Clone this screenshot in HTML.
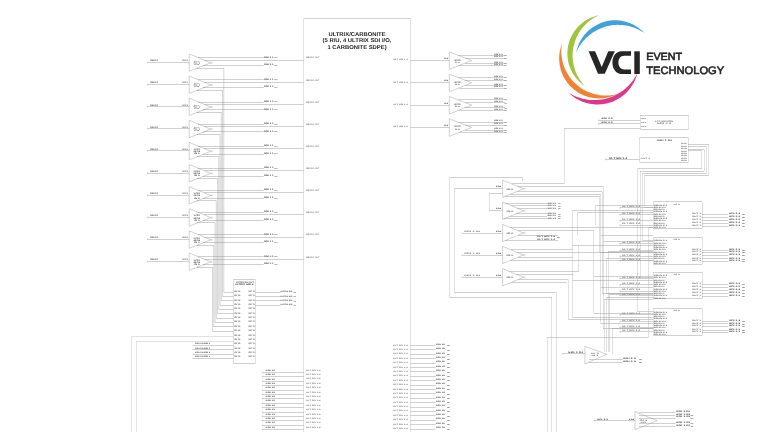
<!DOCTYPE html>
<html><head><meta charset="utf-8"><style>
html,body{margin:0;padding:0;background:#fff;width:768px;height:432px;overflow:hidden}
svg{display:block;font-family:"Liberation Sans",sans-serif;filter:blur(0.2px)}
</style></head><body>
<svg style="text-rendering:geometricPrecision" width="768" height="432" viewBox="0 0 768 432">
<rect width="768" height="432" fill="#fff"/>
<polygon points="189.20,53.90 210.80,62.80 189.20,71.30" fill="none" stroke="#9a9a9a" stroke-width="0.45"/>
<circle cx="211.70" cy="62.80" r="0.8" fill="none" stroke="#999" stroke-width="0.3"/>
<line x1="147.50" y1="62.50" x2="189.20" y2="62.50" stroke="#969696" stroke-width="0.45"/>
<line x1="148.00" y1="61.60" x2="146.80" y2="62.40" stroke="#969696" stroke-width="0.3"/>
<line x1="146.80" y1="62.40" x2="148.00" y2="63.20" stroke="#969696" stroke-width="0.3"/>
<text x="150.30" y="61.35" font-size="2.21" font-weight="bold" text-anchor="start" fill="#4a4a4a" textLength="8.00" lengthAdjust="spacingAndGlyphs">SDI IN 1</text>
<text x="182.60" y="61.35" font-size="2.21" font-weight="bold" text-anchor="start" fill="#4a4a4a" textLength="5.40" lengthAdjust="spacingAndGlyphs">IN 1</text>
<text x="193.60" y="65.00" font-size="6.0" font-weight="normal" text-anchor="start" fill="#7a7a7a" textLength="6.20" lengthAdjust="spacingAndGlyphs">6D</text>
<line x1="198.67" y1="57.50" x2="263.75" y2="57.50" stroke="#969696" stroke-width="0.45"/>
<circle cx="198.67" cy="57.80" r="0.35" fill="#666"/>
<text x="264.00" y="57.55" font-size="2.21" font-weight="bold" text-anchor="start" fill="#4a4a4a" textLength="9.50" lengthAdjust="spacingAndGlyphs">SDI 1.1</text>
<text x="274.50" y="58.18" font-size="1.56" font-weight="bold" text-anchor="start" fill="#4a4a4a" textLength="3.10" lengthAdjust="spacingAndGlyphs">OUT</text>
<line x1="203.68" y1="65.50" x2="263.75" y2="65.50" stroke="#969696" stroke-width="0.45"/>
<circle cx="203.68" cy="65.60" r="0.35" fill="#666"/>
<text x="264.00" y="65.35" font-size="2.21" font-weight="bold" text-anchor="start" fill="#4a4a4a" textLength="9.50" lengthAdjust="spacingAndGlyphs">SDI 1.1</text>
<text x="274.50" y="65.98" font-size="1.56" font-weight="bold" text-anchor="start" fill="#4a4a4a" textLength="3.10" lengthAdjust="spacingAndGlyphs">OUT</text>
<line x1="204.25" y1="60.50" x2="303.80" y2="60.50" stroke="#969696" stroke-width="0.45"/>
<text x="306.00" y="58.47" font-size="2.3400000000000003" font-weight="bold" text-anchor="start" fill="#767676" textLength="13.40" lengthAdjust="spacingAndGlyphs">SDI IN 1 ULT</text>
<line x1="197.33" y1="68.50" x2="223.80" y2="68.50" stroke="#969696" stroke-width="0.45"/>
<circle cx="197.33" cy="68.10" r="0.35" fill="#666"/>
<polygon points="189.20,76.02 210.80,84.92 189.20,93.42" fill="none" stroke="#9a9a9a" stroke-width="0.45"/>
<circle cx="211.70" cy="84.92" r="0.8" fill="none" stroke="#999" stroke-width="0.3"/>
<line x1="147.50" y1="84.50" x2="189.20" y2="84.50" stroke="#969696" stroke-width="0.45"/>
<line x1="148.00" y1="83.72" x2="146.80" y2="84.52" stroke="#969696" stroke-width="0.3"/>
<line x1="146.80" y1="84.52" x2="148.00" y2="85.32" stroke="#969696" stroke-width="0.3"/>
<text x="150.30" y="83.47" font-size="2.21" font-weight="bold" text-anchor="start" fill="#4a4a4a" textLength="8.00" lengthAdjust="spacingAndGlyphs">SDI IN 1</text>
<text x="182.60" y="83.47" font-size="2.21" font-weight="bold" text-anchor="start" fill="#4a4a4a" textLength="5.40" lengthAdjust="spacingAndGlyphs">IN 1</text>
<text x="193.60" y="87.12" font-size="6.0" font-weight="normal" text-anchor="start" fill="#7a7a7a" textLength="6.20" lengthAdjust="spacingAndGlyphs">6D</text>
<line x1="198.67" y1="79.50" x2="263.75" y2="79.50" stroke="#969696" stroke-width="0.45"/>
<circle cx="198.67" cy="79.92" r="0.35" fill="#666"/>
<text x="264.00" y="79.67" font-size="2.21" font-weight="bold" text-anchor="start" fill="#4a4a4a" textLength="9.50" lengthAdjust="spacingAndGlyphs">SDI 1.1</text>
<text x="274.50" y="80.30" font-size="1.56" font-weight="bold" text-anchor="start" fill="#4a4a4a" textLength="3.10" lengthAdjust="spacingAndGlyphs">OUT</text>
<line x1="203.68" y1="87.50" x2="263.75" y2="87.50" stroke="#969696" stroke-width="0.45"/>
<circle cx="203.68" cy="87.72" r="0.35" fill="#666"/>
<text x="264.00" y="87.47" font-size="2.21" font-weight="bold" text-anchor="start" fill="#4a4a4a" textLength="9.50" lengthAdjust="spacingAndGlyphs">SDI 1.1</text>
<text x="274.50" y="88.10" font-size="1.56" font-weight="bold" text-anchor="start" fill="#4a4a4a" textLength="3.10" lengthAdjust="spacingAndGlyphs">OUT</text>
<line x1="204.25" y1="82.50" x2="303.80" y2="82.50" stroke="#969696" stroke-width="0.45"/>
<text x="306.00" y="80.59" font-size="2.3400000000000003" font-weight="bold" text-anchor="start" fill="#767676" textLength="13.40" lengthAdjust="spacingAndGlyphs">SDI IN 1 ULT</text>
<line x1="197.33" y1="90.50" x2="222.55" y2="90.50" stroke="#969696" stroke-width="0.45"/>
<circle cx="197.33" cy="90.22" r="0.35" fill="#666"/>
<polygon points="189.20,98.14 210.80,107.04 189.20,115.54" fill="none" stroke="#9a9a9a" stroke-width="0.45"/>
<circle cx="211.70" cy="107.04" r="0.8" fill="none" stroke="#999" stroke-width="0.3"/>
<line x1="147.50" y1="106.50" x2="189.20" y2="106.50" stroke="#969696" stroke-width="0.45"/>
<line x1="148.00" y1="105.84" x2="146.80" y2="106.64" stroke="#969696" stroke-width="0.3"/>
<line x1="146.80" y1="106.64" x2="148.00" y2="107.44" stroke="#969696" stroke-width="0.3"/>
<text x="150.30" y="105.59" font-size="2.21" font-weight="bold" text-anchor="start" fill="#4a4a4a" textLength="8.00" lengthAdjust="spacingAndGlyphs">SDI IN 1</text>
<text x="182.60" y="105.59" font-size="2.21" font-weight="bold" text-anchor="start" fill="#4a4a4a" textLength="5.40" lengthAdjust="spacingAndGlyphs">IN 1</text>
<text x="193.60" y="109.24" font-size="6.0" font-weight="normal" text-anchor="start" fill="#7a7a7a" textLength="6.20" lengthAdjust="spacingAndGlyphs">6D</text>
<line x1="198.67" y1="102.50" x2="263.75" y2="102.50" stroke="#969696" stroke-width="0.45"/>
<circle cx="198.67" cy="102.04" r="0.35" fill="#666"/>
<text x="264.00" y="101.79" font-size="2.21" font-weight="bold" text-anchor="start" fill="#4a4a4a" textLength="9.50" lengthAdjust="spacingAndGlyphs">SDI 1.1</text>
<text x="274.50" y="102.42" font-size="1.56" font-weight="bold" text-anchor="start" fill="#4a4a4a" textLength="3.10" lengthAdjust="spacingAndGlyphs">OUT</text>
<line x1="203.68" y1="109.50" x2="263.75" y2="109.50" stroke="#969696" stroke-width="0.45"/>
<circle cx="203.68" cy="109.84" r="0.35" fill="#666"/>
<text x="264.00" y="109.59" font-size="2.21" font-weight="bold" text-anchor="start" fill="#4a4a4a" textLength="9.50" lengthAdjust="spacingAndGlyphs">SDI 1.1</text>
<text x="274.50" y="110.22" font-size="1.56" font-weight="bold" text-anchor="start" fill="#4a4a4a" textLength="3.10" lengthAdjust="spacingAndGlyphs">OUT</text>
<line x1="204.25" y1="104.50" x2="303.80" y2="104.50" stroke="#969696" stroke-width="0.45"/>
<text x="306.00" y="102.71" font-size="2.3400000000000003" font-weight="bold" text-anchor="start" fill="#767676" textLength="13.40" lengthAdjust="spacingAndGlyphs">SDI IN 1 ULT</text>
<line x1="197.33" y1="112.50" x2="221.30" y2="112.50" stroke="#969696" stroke-width="0.45"/>
<circle cx="197.33" cy="112.34" r="0.35" fill="#666"/>
<polygon points="189.20,120.26 210.80,129.16 189.20,137.66" fill="none" stroke="#9a9a9a" stroke-width="0.45"/>
<circle cx="211.70" cy="129.16" r="0.8" fill="none" stroke="#999" stroke-width="0.3"/>
<line x1="147.50" y1="128.50" x2="189.20" y2="128.50" stroke="#969696" stroke-width="0.45"/>
<line x1="148.00" y1="127.96" x2="146.80" y2="128.76" stroke="#969696" stroke-width="0.3"/>
<line x1="146.80" y1="128.76" x2="148.00" y2="129.56" stroke="#969696" stroke-width="0.3"/>
<text x="150.30" y="127.71" font-size="2.21" font-weight="bold" text-anchor="start" fill="#4a4a4a" textLength="8.00" lengthAdjust="spacingAndGlyphs">SDI IN 1</text>
<text x="182.60" y="127.71" font-size="2.21" font-weight="bold" text-anchor="start" fill="#4a4a4a" textLength="5.40" lengthAdjust="spacingAndGlyphs">IN 1</text>
<text x="193.60" y="131.36" font-size="6.0" font-weight="normal" text-anchor="start" fill="#7a7a7a" textLength="6.20" lengthAdjust="spacingAndGlyphs">6D</text>
<line x1="198.67" y1="124.50" x2="263.75" y2="124.50" stroke="#969696" stroke-width="0.45"/>
<circle cx="198.67" cy="124.16" r="0.35" fill="#666"/>
<text x="264.00" y="123.91" font-size="2.21" font-weight="bold" text-anchor="start" fill="#4a4a4a" textLength="9.50" lengthAdjust="spacingAndGlyphs">SDI 1.1</text>
<text x="274.50" y="124.54" font-size="1.56" font-weight="bold" text-anchor="start" fill="#4a4a4a" textLength="3.10" lengthAdjust="spacingAndGlyphs">OUT</text>
<line x1="203.68" y1="131.50" x2="263.75" y2="131.50" stroke="#969696" stroke-width="0.45"/>
<circle cx="203.68" cy="131.96" r="0.35" fill="#666"/>
<text x="264.00" y="131.72" font-size="2.21" font-weight="bold" text-anchor="start" fill="#4a4a4a" textLength="9.50" lengthAdjust="spacingAndGlyphs">SDI 1.1</text>
<text x="274.50" y="132.34" font-size="1.56" font-weight="bold" text-anchor="start" fill="#4a4a4a" textLength="3.10" lengthAdjust="spacingAndGlyphs">OUT</text>
<line x1="204.25" y1="126.50" x2="303.80" y2="126.50" stroke="#969696" stroke-width="0.45"/>
<text x="306.00" y="124.83" font-size="2.3400000000000003" font-weight="bold" text-anchor="start" fill="#767676" textLength="13.40" lengthAdjust="spacingAndGlyphs">SDI IN 1 ULT</text>
<line x1="197.33" y1="134.50" x2="220.05" y2="134.50" stroke="#969696" stroke-width="0.45"/>
<circle cx="197.33" cy="134.46" r="0.35" fill="#666"/>
<polygon points="189.20,142.38 210.80,151.28 189.20,159.78" fill="none" stroke="#9a9a9a" stroke-width="0.45"/>
<circle cx="211.70" cy="151.28" r="0.8" fill="none" stroke="#999" stroke-width="0.3"/>
<line x1="147.50" y1="150.50" x2="189.20" y2="150.50" stroke="#969696" stroke-width="0.45"/>
<line x1="148.00" y1="150.08" x2="146.80" y2="150.88" stroke="#969696" stroke-width="0.3"/>
<line x1="146.80" y1="150.88" x2="148.00" y2="151.68" stroke="#969696" stroke-width="0.3"/>
<text x="150.30" y="149.84" font-size="2.21" font-weight="bold" text-anchor="start" fill="#4a4a4a" textLength="8.00" lengthAdjust="spacingAndGlyphs">SDI IN 1</text>
<text x="182.60" y="149.84" font-size="2.21" font-weight="bold" text-anchor="start" fill="#4a4a4a" textLength="5.40" lengthAdjust="spacingAndGlyphs">IN 1</text>
<text x="193.80" y="150.02" font-size="2.08" font-weight="bold" text-anchor="start" fill="#505050" textLength="6.10" lengthAdjust="spacingAndGlyphs">ULTRIX</text>
<text x="193.60" y="152.22" font-size="2.08" font-weight="bold" text-anchor="start" fill="#404040" textLength="6.50" lengthAdjust="spacingAndGlyphs">SDI DA</text>
<text x="194.20" y="154.32" font-size="2.08" font-weight="bold" text-anchor="start" fill="#505050" textLength="5.40" lengthAdjust="spacingAndGlyphs">IN 3</text>
<line x1="198.67" y1="146.50" x2="263.75" y2="146.50" stroke="#969696" stroke-width="0.45"/>
<circle cx="198.67" cy="146.28" r="0.35" fill="#666"/>
<text x="264.00" y="146.03" font-size="2.21" font-weight="bold" text-anchor="start" fill="#4a4a4a" textLength="9.50" lengthAdjust="spacingAndGlyphs">SDI 1.1</text>
<text x="274.50" y="146.66" font-size="1.56" font-weight="bold" text-anchor="start" fill="#4a4a4a" textLength="3.10" lengthAdjust="spacingAndGlyphs">OUT</text>
<line x1="203.68" y1="154.50" x2="263.75" y2="154.50" stroke="#969696" stroke-width="0.45"/>
<circle cx="203.68" cy="154.08" r="0.35" fill="#666"/>
<text x="264.00" y="153.84" font-size="2.21" font-weight="bold" text-anchor="start" fill="#4a4a4a" textLength="9.50" lengthAdjust="spacingAndGlyphs">SDI 1.1</text>
<text x="274.50" y="154.46" font-size="1.56" font-weight="bold" text-anchor="start" fill="#4a4a4a" textLength="3.10" lengthAdjust="spacingAndGlyphs">OUT</text>
<line x1="204.25" y1="148.50" x2="303.80" y2="148.50" stroke="#969696" stroke-width="0.45"/>
<text x="306.00" y="146.95" font-size="2.3400000000000003" font-weight="bold" text-anchor="start" fill="#767676" textLength="13.40" lengthAdjust="spacingAndGlyphs">SDI IN 1 ULT</text>
<line x1="197.33" y1="156.50" x2="218.80" y2="156.50" stroke="#969696" stroke-width="0.45"/>
<circle cx="197.33" cy="156.58" r="0.35" fill="#666"/>
<polygon points="189.20,164.50 210.80,173.40 189.20,181.90" fill="none" stroke="#9a9a9a" stroke-width="0.45"/>
<circle cx="211.70" cy="173.40" r="0.8" fill="none" stroke="#999" stroke-width="0.3"/>
<line x1="147.50" y1="173.50" x2="189.20" y2="173.50" stroke="#969696" stroke-width="0.45"/>
<line x1="148.00" y1="172.20" x2="146.80" y2="173.00" stroke="#969696" stroke-width="0.3"/>
<line x1="146.80" y1="173.00" x2="148.00" y2="173.80" stroke="#969696" stroke-width="0.3"/>
<text x="150.30" y="171.96" font-size="2.21" font-weight="bold" text-anchor="start" fill="#4a4a4a" textLength="8.00" lengthAdjust="spacingAndGlyphs">SDI IN 1</text>
<text x="182.60" y="171.96" font-size="2.21" font-weight="bold" text-anchor="start" fill="#4a4a4a" textLength="5.40" lengthAdjust="spacingAndGlyphs">IN 1</text>
<text x="193.80" y="172.14" font-size="2.08" font-weight="bold" text-anchor="start" fill="#505050" textLength="6.10" lengthAdjust="spacingAndGlyphs">ULTRIX</text>
<text x="193.60" y="174.34" font-size="2.08" font-weight="bold" text-anchor="start" fill="#404040" textLength="6.50" lengthAdjust="spacingAndGlyphs">SDI DA</text>
<text x="194.20" y="176.44" font-size="2.08" font-weight="bold" text-anchor="start" fill="#505050" textLength="5.40" lengthAdjust="spacingAndGlyphs">IN 3</text>
<line x1="198.67" y1="168.50" x2="263.75" y2="168.50" stroke="#969696" stroke-width="0.45"/>
<circle cx="198.67" cy="168.40" r="0.35" fill="#666"/>
<text x="264.00" y="168.16" font-size="2.21" font-weight="bold" text-anchor="start" fill="#4a4a4a" textLength="9.50" lengthAdjust="spacingAndGlyphs">SDI 1.1</text>
<text x="274.50" y="168.78" font-size="1.56" font-weight="bold" text-anchor="start" fill="#4a4a4a" textLength="3.10" lengthAdjust="spacingAndGlyphs">OUT</text>
<line x1="203.68" y1="176.50" x2="263.75" y2="176.50" stroke="#969696" stroke-width="0.45"/>
<circle cx="203.68" cy="176.20" r="0.35" fill="#666"/>
<text x="264.00" y="175.96" font-size="2.21" font-weight="bold" text-anchor="start" fill="#4a4a4a" textLength="9.50" lengthAdjust="spacingAndGlyphs">SDI 1.1</text>
<text x="274.50" y="176.58" font-size="1.56" font-weight="bold" text-anchor="start" fill="#4a4a4a" textLength="3.10" lengthAdjust="spacingAndGlyphs">OUT</text>
<line x1="204.25" y1="170.50" x2="303.80" y2="170.50" stroke="#969696" stroke-width="0.45"/>
<text x="306.00" y="169.07" font-size="2.3400000000000003" font-weight="bold" text-anchor="start" fill="#767676" textLength="13.40" lengthAdjust="spacingAndGlyphs">SDI IN 1 ULT</text>
<line x1="197.33" y1="178.50" x2="217.55" y2="178.50" stroke="#969696" stroke-width="0.45"/>
<circle cx="197.33" cy="178.70" r="0.35" fill="#666"/>
<polygon points="189.20,186.62 210.80,195.52 189.20,204.02" fill="none" stroke="#9a9a9a" stroke-width="0.45"/>
<circle cx="211.70" cy="195.52" r="0.8" fill="none" stroke="#999" stroke-width="0.3"/>
<line x1="147.50" y1="195.50" x2="189.20" y2="195.50" stroke="#969696" stroke-width="0.45"/>
<line x1="148.00" y1="194.32" x2="146.80" y2="195.12" stroke="#969696" stroke-width="0.3"/>
<line x1="146.80" y1="195.12" x2="148.00" y2="195.92" stroke="#969696" stroke-width="0.3"/>
<text x="150.30" y="194.07" font-size="2.21" font-weight="bold" text-anchor="start" fill="#4a4a4a" textLength="8.00" lengthAdjust="spacingAndGlyphs">SDI IN 1</text>
<text x="182.60" y="194.07" font-size="2.21" font-weight="bold" text-anchor="start" fill="#4a4a4a" textLength="5.40" lengthAdjust="spacingAndGlyphs">IN 1</text>
<text x="193.80" y="194.26" font-size="2.08" font-weight="bold" text-anchor="start" fill="#505050" textLength="6.10" lengthAdjust="spacingAndGlyphs">ULTRIX</text>
<text x="193.60" y="196.46" font-size="2.08" font-weight="bold" text-anchor="start" fill="#404040" textLength="6.50" lengthAdjust="spacingAndGlyphs">SDI DA</text>
<text x="194.20" y="198.56" font-size="2.08" font-weight="bold" text-anchor="start" fill="#505050" textLength="5.40" lengthAdjust="spacingAndGlyphs">IN 3</text>
<line x1="198.67" y1="190.50" x2="263.75" y2="190.50" stroke="#969696" stroke-width="0.45"/>
<circle cx="198.67" cy="190.52" r="0.35" fill="#666"/>
<text x="264.00" y="190.27" font-size="2.21" font-weight="bold" text-anchor="start" fill="#4a4a4a" textLength="9.50" lengthAdjust="spacingAndGlyphs">SDI 1.1</text>
<text x="274.50" y="190.90" font-size="1.56" font-weight="bold" text-anchor="start" fill="#4a4a4a" textLength="3.10" lengthAdjust="spacingAndGlyphs">OUT</text>
<line x1="203.68" y1="198.50" x2="263.75" y2="198.50" stroke="#969696" stroke-width="0.45"/>
<circle cx="203.68" cy="198.32" r="0.35" fill="#666"/>
<text x="264.00" y="198.07" font-size="2.21" font-weight="bold" text-anchor="start" fill="#4a4a4a" textLength="9.50" lengthAdjust="spacingAndGlyphs">SDI 1.1</text>
<text x="274.50" y="198.70" font-size="1.56" font-weight="bold" text-anchor="start" fill="#4a4a4a" textLength="3.10" lengthAdjust="spacingAndGlyphs">OUT</text>
<line x1="204.25" y1="192.50" x2="303.80" y2="192.50" stroke="#969696" stroke-width="0.45"/>
<text x="306.00" y="191.19" font-size="2.3400000000000003" font-weight="bold" text-anchor="start" fill="#767676" textLength="13.40" lengthAdjust="spacingAndGlyphs">SDI IN 1 ULT</text>
<line x1="197.33" y1="200.50" x2="216.30" y2="200.50" stroke="#969696" stroke-width="0.45"/>
<circle cx="197.33" cy="200.82" r="0.35" fill="#666"/>
<polygon points="189.20,208.74 210.80,217.64 189.20,226.14" fill="none" stroke="#9a9a9a" stroke-width="0.45"/>
<circle cx="211.70" cy="217.64" r="0.8" fill="none" stroke="#999" stroke-width="0.3"/>
<line x1="147.50" y1="217.50" x2="189.20" y2="217.50" stroke="#969696" stroke-width="0.45"/>
<line x1="148.00" y1="216.44" x2="146.80" y2="217.24" stroke="#969696" stroke-width="0.3"/>
<line x1="146.80" y1="217.24" x2="148.00" y2="218.04" stroke="#969696" stroke-width="0.3"/>
<text x="150.30" y="216.19" font-size="2.21" font-weight="bold" text-anchor="start" fill="#4a4a4a" textLength="8.00" lengthAdjust="spacingAndGlyphs">SDI IN 1</text>
<text x="182.60" y="216.19" font-size="2.21" font-weight="bold" text-anchor="start" fill="#4a4a4a" textLength="5.40" lengthAdjust="spacingAndGlyphs">IN 1</text>
<text x="193.80" y="216.38" font-size="2.08" font-weight="bold" text-anchor="start" fill="#505050" textLength="6.10" lengthAdjust="spacingAndGlyphs">ULTRIX</text>
<text x="193.60" y="218.58" font-size="2.08" font-weight="bold" text-anchor="start" fill="#404040" textLength="6.50" lengthAdjust="spacingAndGlyphs">SDI DA</text>
<text x="194.20" y="220.68" font-size="2.08" font-weight="bold" text-anchor="start" fill="#505050" textLength="5.40" lengthAdjust="spacingAndGlyphs">IN 3</text>
<line x1="198.67" y1="212.50" x2="263.75" y2="212.50" stroke="#969696" stroke-width="0.45"/>
<circle cx="198.67" cy="212.64" r="0.35" fill="#666"/>
<text x="264.00" y="212.39" font-size="2.21" font-weight="bold" text-anchor="start" fill="#4a4a4a" textLength="9.50" lengthAdjust="spacingAndGlyphs">SDI 1.1</text>
<text x="274.50" y="213.02" font-size="1.56" font-weight="bold" text-anchor="start" fill="#4a4a4a" textLength="3.10" lengthAdjust="spacingAndGlyphs">OUT</text>
<line x1="203.68" y1="220.50" x2="263.75" y2="220.50" stroke="#969696" stroke-width="0.45"/>
<circle cx="203.68" cy="220.44" r="0.35" fill="#666"/>
<text x="264.00" y="220.19" font-size="2.21" font-weight="bold" text-anchor="start" fill="#4a4a4a" textLength="9.50" lengthAdjust="spacingAndGlyphs">SDI 1.1</text>
<text x="274.50" y="220.82" font-size="1.56" font-weight="bold" text-anchor="start" fill="#4a4a4a" textLength="3.10" lengthAdjust="spacingAndGlyphs">OUT</text>
<line x1="204.25" y1="214.50" x2="303.80" y2="214.50" stroke="#969696" stroke-width="0.45"/>
<text x="306.00" y="213.31" font-size="2.3400000000000003" font-weight="bold" text-anchor="start" fill="#767676" textLength="13.40" lengthAdjust="spacingAndGlyphs">SDI IN 1 ULT</text>
<line x1="197.33" y1="222.50" x2="215.05" y2="222.50" stroke="#969696" stroke-width="0.45"/>
<circle cx="197.33" cy="222.94" r="0.35" fill="#666"/>
<polygon points="189.20,230.86 210.80,239.76 189.20,248.26" fill="none" stroke="#9a9a9a" stroke-width="0.45"/>
<circle cx="211.70" cy="239.76" r="0.8" fill="none" stroke="#999" stroke-width="0.3"/>
<line x1="147.50" y1="239.50" x2="189.20" y2="239.50" stroke="#969696" stroke-width="0.45"/>
<line x1="148.00" y1="238.56" x2="146.80" y2="239.36" stroke="#969696" stroke-width="0.3"/>
<line x1="146.80" y1="239.36" x2="148.00" y2="240.16" stroke="#969696" stroke-width="0.3"/>
<text x="150.30" y="238.31" font-size="2.21" font-weight="bold" text-anchor="start" fill="#4a4a4a" textLength="8.00" lengthAdjust="spacingAndGlyphs">SDI IN 1</text>
<text x="182.60" y="238.31" font-size="2.21" font-weight="bold" text-anchor="start" fill="#4a4a4a" textLength="5.40" lengthAdjust="spacingAndGlyphs">IN 1</text>
<text x="193.80" y="238.50" font-size="2.08" font-weight="bold" text-anchor="start" fill="#505050" textLength="6.10" lengthAdjust="spacingAndGlyphs">ULTRIX</text>
<text x="193.60" y="240.70" font-size="2.08" font-weight="bold" text-anchor="start" fill="#404040" textLength="6.50" lengthAdjust="spacingAndGlyphs">SDI DA</text>
<text x="194.20" y="242.80" font-size="2.08" font-weight="bold" text-anchor="start" fill="#505050" textLength="5.40" lengthAdjust="spacingAndGlyphs">IN 3</text>
<line x1="198.67" y1="234.50" x2="263.75" y2="234.50" stroke="#969696" stroke-width="0.45"/>
<circle cx="198.67" cy="234.76" r="0.35" fill="#666"/>
<text x="264.00" y="234.51" font-size="2.21" font-weight="bold" text-anchor="start" fill="#4a4a4a" textLength="9.50" lengthAdjust="spacingAndGlyphs">SDI 1.1</text>
<text x="274.50" y="235.14" font-size="1.56" font-weight="bold" text-anchor="start" fill="#4a4a4a" textLength="3.10" lengthAdjust="spacingAndGlyphs">OUT</text>
<line x1="203.68" y1="242.50" x2="263.75" y2="242.50" stroke="#969696" stroke-width="0.45"/>
<circle cx="203.68" cy="242.56" r="0.35" fill="#666"/>
<text x="264.00" y="242.31" font-size="2.21" font-weight="bold" text-anchor="start" fill="#4a4a4a" textLength="9.50" lengthAdjust="spacingAndGlyphs">SDI 1.1</text>
<text x="274.50" y="242.94" font-size="1.56" font-weight="bold" text-anchor="start" fill="#4a4a4a" textLength="3.10" lengthAdjust="spacingAndGlyphs">OUT</text>
<line x1="204.25" y1="237.50" x2="303.80" y2="237.50" stroke="#969696" stroke-width="0.45"/>
<text x="306.00" y="235.43" font-size="2.3400000000000003" font-weight="bold" text-anchor="start" fill="#767676" textLength="13.40" lengthAdjust="spacingAndGlyphs">SDI IN 1 ULT</text>
<line x1="197.33" y1="245.50" x2="213.80" y2="245.50" stroke="#969696" stroke-width="0.45"/>
<circle cx="197.33" cy="245.06" r="0.35" fill="#666"/>
<polygon points="189.20,252.98 210.80,261.88 189.20,270.38" fill="none" stroke="#9a9a9a" stroke-width="0.45"/>
<circle cx="211.70" cy="261.88" r="0.8" fill="none" stroke="#999" stroke-width="0.3"/>
<line x1="147.50" y1="261.50" x2="189.20" y2="261.50" stroke="#969696" stroke-width="0.45"/>
<line x1="148.00" y1="260.68" x2="146.80" y2="261.48" stroke="#969696" stroke-width="0.3"/>
<line x1="146.80" y1="261.48" x2="148.00" y2="262.28" stroke="#969696" stroke-width="0.3"/>
<text x="150.30" y="260.44" font-size="2.21" font-weight="bold" text-anchor="start" fill="#4a4a4a" textLength="8.00" lengthAdjust="spacingAndGlyphs">SDI IN 1</text>
<text x="182.60" y="260.44" font-size="2.21" font-weight="bold" text-anchor="start" fill="#4a4a4a" textLength="5.40" lengthAdjust="spacingAndGlyphs">IN 1</text>
<text x="193.80" y="260.62" font-size="2.08" font-weight="bold" text-anchor="start" fill="#505050" textLength="6.10" lengthAdjust="spacingAndGlyphs">ULTRIX</text>
<text x="193.60" y="262.82" font-size="2.08" font-weight="bold" text-anchor="start" fill="#404040" textLength="6.50" lengthAdjust="spacingAndGlyphs">SDI DA</text>
<text x="194.20" y="264.92" font-size="2.08" font-weight="bold" text-anchor="start" fill="#505050" textLength="5.40" lengthAdjust="spacingAndGlyphs">IN 3</text>
<line x1="198.67" y1="256.50" x2="263.75" y2="256.50" stroke="#969696" stroke-width="0.45"/>
<circle cx="198.67" cy="256.88" r="0.35" fill="#666"/>
<text x="264.00" y="256.63" font-size="2.21" font-weight="bold" text-anchor="start" fill="#4a4a4a" textLength="9.50" lengthAdjust="spacingAndGlyphs">SDI 1.1</text>
<text x="274.50" y="257.26" font-size="1.56" font-weight="bold" text-anchor="start" fill="#4a4a4a" textLength="3.10" lengthAdjust="spacingAndGlyphs">OUT</text>
<line x1="203.68" y1="264.50" x2="263.75" y2="264.50" stroke="#969696" stroke-width="0.45"/>
<circle cx="203.68" cy="264.68" r="0.35" fill="#666"/>
<text x="264.00" y="264.44" font-size="2.21" font-weight="bold" text-anchor="start" fill="#4a4a4a" textLength="9.50" lengthAdjust="spacingAndGlyphs">SDI 1.1</text>
<text x="274.50" y="265.06" font-size="1.56" font-weight="bold" text-anchor="start" fill="#4a4a4a" textLength="3.10" lengthAdjust="spacingAndGlyphs">OUT</text>
<line x1="204.25" y1="259.50" x2="303.80" y2="259.50" stroke="#969696" stroke-width="0.45"/>
<text x="306.00" y="257.55" font-size="2.3400000000000003" font-weight="bold" text-anchor="start" fill="#767676" textLength="13.40" lengthAdjust="spacingAndGlyphs">SDI IN 1 ULT</text>
<line x1="197.33" y1="267.50" x2="212.55" y2="267.50" stroke="#969696" stroke-width="0.45"/>
<circle cx="197.33" cy="267.18" r="0.35" fill="#666"/>
<line x1="223.80" y1="68.10" x2="223.80" y2="292.10" stroke="#8a8a8a" stroke-width="0.35"/>
<line x1="223.80" y1="292.50" x2="233.40" y2="292.50" stroke="#969696" stroke-width="0.45"/>
<line x1="222.55" y1="90.22" x2="222.55" y2="296.46" stroke="#8a8a8a" stroke-width="0.35"/>
<line x1="222.55" y1="296.50" x2="233.40" y2="296.50" stroke="#969696" stroke-width="0.45"/>
<line x1="221.30" y1="112.34" x2="221.30" y2="300.82" stroke="#8a8a8a" stroke-width="0.35"/>
<line x1="221.30" y1="300.50" x2="233.40" y2="300.50" stroke="#969696" stroke-width="0.45"/>
<line x1="220.05" y1="134.46" x2="220.05" y2="305.18" stroke="#8a8a8a" stroke-width="0.35"/>
<line x1="220.05" y1="305.50" x2="233.40" y2="305.50" stroke="#969696" stroke-width="0.45"/>
<line x1="218.80" y1="156.58" x2="218.80" y2="309.54" stroke="#8a8a8a" stroke-width="0.35"/>
<line x1="218.80" y1="309.50" x2="233.40" y2="309.50" stroke="#969696" stroke-width="0.45"/>
<line x1="217.55" y1="178.70" x2="217.55" y2="313.90" stroke="#8a8a8a" stroke-width="0.35"/>
<line x1="217.55" y1="313.50" x2="233.40" y2="313.50" stroke="#969696" stroke-width="0.45"/>
<line x1="216.30" y1="200.82" x2="216.30" y2="318.26" stroke="#8a8a8a" stroke-width="0.35"/>
<line x1="216.30" y1="318.50" x2="233.40" y2="318.50" stroke="#969696" stroke-width="0.45"/>
<line x1="215.05" y1="222.94" x2="215.05" y2="322.62" stroke="#8a8a8a" stroke-width="0.35"/>
<line x1="215.05" y1="322.50" x2="233.40" y2="322.50" stroke="#969696" stroke-width="0.45"/>
<line x1="213.80" y1="245.06" x2="213.80" y2="326.98" stroke="#8a8a8a" stroke-width="0.35"/>
<line x1="213.80" y1="326.50" x2="233.40" y2="326.50" stroke="#969696" stroke-width="0.45"/>
<line x1="212.55" y1="267.18" x2="212.55" y2="331.34" stroke="#8a8a8a" stroke-width="0.35"/>
<line x1="212.55" y1="331.50" x2="233.40" y2="331.50" stroke="#969696" stroke-width="0.45"/>
<line x1="233.40" y1="279.50" x2="255.40" y2="279.50" stroke="#969696" stroke-width="0.45"/>
<line x1="255.50" y1="279.40" x2="255.50" y2="363.60" stroke="#b4b4b4" stroke-width="0.4"/>
<line x1="255.40" y1="363.50" x2="233.40" y2="363.50" stroke="#969696" stroke-width="0.45"/>
<line x1="233.50" y1="363.60" x2="233.50" y2="279.40" stroke="#b4b4b4" stroke-width="0.4"/>
<text x="236.00" y="282.65" font-size="2.21" font-weight="bold" text-anchor="start" fill="#555" textLength="17.80" lengthAdjust="spacingAndGlyphs">ULTRIX SDI OUT</text>
<text x="234.80" y="285.17" font-size="2.3400000000000003" font-weight="bold" text-anchor="start" fill="#333" textLength="18.70" lengthAdjust="spacingAndGlyphs">ULTRIX SDI 4</text>
<text x="234.40" y="291.94" font-size="2.08" font-weight="bold" text-anchor="start" fill="#5a5a5a" textLength="6.00" lengthAdjust="spacingAndGlyphs">IN 12</text>
<text x="248.40" y="291.94" font-size="2.08" font-weight="bold" text-anchor="start" fill="#5a5a5a" textLength="6.40" lengthAdjust="spacingAndGlyphs">OUT 12</text>
<text x="234.40" y="296.30" font-size="2.08" font-weight="bold" text-anchor="start" fill="#5a5a5a" textLength="6.00" lengthAdjust="spacingAndGlyphs">IN 12</text>
<text x="248.40" y="296.30" font-size="2.08" font-weight="bold" text-anchor="start" fill="#5a5a5a" textLength="6.40" lengthAdjust="spacingAndGlyphs">OUT 12</text>
<text x="234.40" y="300.66" font-size="2.08" font-weight="bold" text-anchor="start" fill="#5a5a5a" textLength="6.00" lengthAdjust="spacingAndGlyphs">IN 12</text>
<text x="248.40" y="300.66" font-size="2.08" font-weight="bold" text-anchor="start" fill="#5a5a5a" textLength="6.40" lengthAdjust="spacingAndGlyphs">OUT 12</text>
<text x="234.40" y="305.02" font-size="2.08" font-weight="bold" text-anchor="start" fill="#5a5a5a" textLength="6.00" lengthAdjust="spacingAndGlyphs">IN 12</text>
<text x="248.40" y="305.02" font-size="2.08" font-weight="bold" text-anchor="start" fill="#5a5a5a" textLength="6.40" lengthAdjust="spacingAndGlyphs">OUT 12</text>
<text x="234.40" y="309.38" font-size="2.08" font-weight="bold" text-anchor="start" fill="#5a5a5a" textLength="6.00" lengthAdjust="spacingAndGlyphs">IN 12</text>
<text x="248.40" y="309.38" font-size="2.08" font-weight="bold" text-anchor="start" fill="#5a5a5a" textLength="6.40" lengthAdjust="spacingAndGlyphs">OUT 12</text>
<text x="234.40" y="313.74" font-size="2.08" font-weight="bold" text-anchor="start" fill="#5a5a5a" textLength="6.00" lengthAdjust="spacingAndGlyphs">IN 12</text>
<text x="248.40" y="313.74" font-size="2.08" font-weight="bold" text-anchor="start" fill="#5a5a5a" textLength="6.40" lengthAdjust="spacingAndGlyphs">OUT 12</text>
<text x="234.40" y="318.10" font-size="2.08" font-weight="bold" text-anchor="start" fill="#5a5a5a" textLength="6.00" lengthAdjust="spacingAndGlyphs">IN 12</text>
<text x="248.40" y="318.10" font-size="2.08" font-weight="bold" text-anchor="start" fill="#5a5a5a" textLength="6.40" lengthAdjust="spacingAndGlyphs">OUT 12</text>
<text x="234.40" y="322.46" font-size="2.08" font-weight="bold" text-anchor="start" fill="#5a5a5a" textLength="6.00" lengthAdjust="spacingAndGlyphs">IN 12</text>
<text x="248.40" y="322.46" font-size="2.08" font-weight="bold" text-anchor="start" fill="#5a5a5a" textLength="6.40" lengthAdjust="spacingAndGlyphs">OUT 12</text>
<text x="234.40" y="326.82" font-size="2.08" font-weight="bold" text-anchor="start" fill="#5a5a5a" textLength="6.00" lengthAdjust="spacingAndGlyphs">IN 12</text>
<text x="248.40" y="326.82" font-size="2.08" font-weight="bold" text-anchor="start" fill="#5a5a5a" textLength="6.40" lengthAdjust="spacingAndGlyphs">OUT 12</text>
<text x="234.40" y="331.18" font-size="2.08" font-weight="bold" text-anchor="start" fill="#5a5a5a" textLength="6.00" lengthAdjust="spacingAndGlyphs">IN 12</text>
<text x="248.40" y="331.18" font-size="2.08" font-weight="bold" text-anchor="start" fill="#5a5a5a" textLength="6.40" lengthAdjust="spacingAndGlyphs">OUT 12</text>
<text x="234.40" y="335.54" font-size="2.08" font-weight="bold" text-anchor="start" fill="#5a5a5a" textLength="6.00" lengthAdjust="spacingAndGlyphs">IN 12</text>
<text x="248.40" y="335.54" font-size="2.08" font-weight="bold" text-anchor="start" fill="#5a5a5a" textLength="6.40" lengthAdjust="spacingAndGlyphs">OUT 12</text>
<text x="234.40" y="339.90" font-size="2.08" font-weight="bold" text-anchor="start" fill="#5a5a5a" textLength="6.00" lengthAdjust="spacingAndGlyphs">IN 12</text>
<text x="248.40" y="339.90" font-size="2.08" font-weight="bold" text-anchor="start" fill="#5a5a5a" textLength="6.40" lengthAdjust="spacingAndGlyphs">OUT 12</text>
<text x="234.40" y="344.26" font-size="2.08" font-weight="bold" text-anchor="start" fill="#5a5a5a" textLength="6.00" lengthAdjust="spacingAndGlyphs">IN 12</text>
<text x="248.40" y="344.26" font-size="2.08" font-weight="bold" text-anchor="start" fill="#5a5a5a" textLength="6.40" lengthAdjust="spacingAndGlyphs">OUT 12</text>
<text x="234.40" y="348.62" font-size="2.08" font-weight="bold" text-anchor="start" fill="#5a5a5a" textLength="6.00" lengthAdjust="spacingAndGlyphs">IN 12</text>
<text x="248.40" y="348.62" font-size="2.08" font-weight="bold" text-anchor="start" fill="#5a5a5a" textLength="6.40" lengthAdjust="spacingAndGlyphs">OUT 12</text>
<text x="234.40" y="352.98" font-size="2.08" font-weight="bold" text-anchor="start" fill="#5a5a5a" textLength="6.00" lengthAdjust="spacingAndGlyphs">IN 12</text>
<text x="248.40" y="352.98" font-size="2.08" font-weight="bold" text-anchor="start" fill="#5a5a5a" textLength="6.40" lengthAdjust="spacingAndGlyphs">OUT 12</text>
<text x="234.40" y="357.34" font-size="2.08" font-weight="bold" text-anchor="start" fill="#5a5a5a" textLength="6.00" lengthAdjust="spacingAndGlyphs">IN 12</text>
<text x="248.40" y="357.34" font-size="2.08" font-weight="bold" text-anchor="start" fill="#5a5a5a" textLength="6.40" lengthAdjust="spacingAndGlyphs">OUT 12</text>
<line x1="255.40" y1="292.50" x2="280.50" y2="292.50" stroke="#969696" stroke-width="0.45"/>
<text x="280.60" y="292.32" font-size="1.9500000000000002" font-weight="bold" text-anchor="start" fill="#4a4a4a" textLength="11.70" lengthAdjust="spacingAndGlyphs">ULTRIX SDI</text>
<text x="293.50" y="293.17" font-size="1.4300000000000002" font-weight="bold" text-anchor="start" fill="#4a4a4a" textLength="2.50" lengthAdjust="spacingAndGlyphs">OUT</text>
<line x1="255.40" y1="296.50" x2="280.50" y2="296.50" stroke="#969696" stroke-width="0.45"/>
<text x="280.60" y="296.52" font-size="1.9500000000000002" font-weight="bold" text-anchor="start" fill="#4a4a4a" textLength="11.70" lengthAdjust="spacingAndGlyphs">ULTRIX SDI</text>
<text x="293.50" y="297.37" font-size="1.4300000000000002" font-weight="bold" text-anchor="start" fill="#4a4a4a" textLength="2.50" lengthAdjust="spacingAndGlyphs">OUT</text>
<line x1="255.40" y1="300.50" x2="280.50" y2="300.50" stroke="#969696" stroke-width="0.45"/>
<text x="280.60" y="300.72" font-size="1.9500000000000002" font-weight="bold" text-anchor="start" fill="#4a4a4a" textLength="11.70" lengthAdjust="spacingAndGlyphs">ULTRIX SDI</text>
<text x="293.50" y="301.56" font-size="1.4300000000000002" font-weight="bold" text-anchor="start" fill="#4a4a4a" textLength="2.50" lengthAdjust="spacingAndGlyphs">OUT</text>
<line x1="255.40" y1="305.50" x2="280.50" y2="305.50" stroke="#969696" stroke-width="0.45"/>
<text x="280.60" y="304.93" font-size="1.9500000000000002" font-weight="bold" text-anchor="start" fill="#4a4a4a" textLength="11.70" lengthAdjust="spacingAndGlyphs">ULTRIX SDI</text>
<text x="293.50" y="305.77" font-size="1.4300000000000002" font-weight="bold" text-anchor="start" fill="#4a4a4a" textLength="2.50" lengthAdjust="spacingAndGlyphs">OUT</text>
<line x1="131.50" y1="432.00" x2="131.50" y2="336.60" stroke="#bbb" stroke-width="0.4"/>
<line x1="131.70" y1="336.50" x2="233.40" y2="336.50" stroke="#bbb" stroke-width="0.45"/>
<line x1="136.50" y1="432.00" x2="136.50" y2="341.50" stroke="#bbb" stroke-width="0.4"/>
<line x1="136.00" y1="341.50" x2="233.40" y2="341.50" stroke="#bbb" stroke-width="0.45"/>
<line x1="192.50" y1="345.50" x2="233.40" y2="345.50" stroke="#969696" stroke-width="0.45"/>
<text x="195.00" y="344.23" font-size="1.9500000000000002" font-weight="bold" text-anchor="start" fill="#4a4a4a" textLength="15.00" lengthAdjust="spacingAndGlyphs">SDI CARB 1</text>
<line x1="192.50" y1="349.50" x2="233.40" y2="349.50" stroke="#969696" stroke-width="0.45"/>
<text x="195.00" y="348.58" font-size="1.9500000000000002" font-weight="bold" text-anchor="start" fill="#4a4a4a" textLength="15.00" lengthAdjust="spacingAndGlyphs">SDI CARB 1</text>
<line x1="192.50" y1="354.50" x2="233.40" y2="354.50" stroke="#969696" stroke-width="0.45"/>
<text x="195.00" y="352.93" font-size="1.9500000000000002" font-weight="bold" text-anchor="start" fill="#4a4a4a" textLength="15.00" lengthAdjust="spacingAndGlyphs">SDI CARB 1</text>
<line x1="192.50" y1="358.50" x2="233.40" y2="358.50" stroke="#969696" stroke-width="0.45"/>
<text x="195.00" y="357.28" font-size="1.9500000000000002" font-weight="bold" text-anchor="start" fill="#4a4a4a" textLength="15.00" lengthAdjust="spacingAndGlyphs">SDI CARB 1</text>
<line x1="303.50" y1="432.00" x2="303.50" y2="18.40" stroke="#b4b4b4" stroke-width="0.4"/>
<line x1="303.80" y1="18.50" x2="410.30" y2="18.50" stroke="#969696" stroke-width="0.45"/>
<line x1="410.50" y1="18.40" x2="410.50" y2="432.00" stroke="#b4b4b4" stroke-width="0.4"/>
<text x="357.00" y="35.90" font-size="5.6" font-weight="bold" text-anchor="middle" fill="#222" textLength="57.10" lengthAdjust="spacingAndGlyphs">ULTRIX/CARBONITE</text>
<text x="357.00" y="42.40" font-size="5.6" font-weight="bold" text-anchor="middle" fill="#222" textLength="68.90" lengthAdjust="spacingAndGlyphs">(5 R/U, 4 ULTRIX SDI I/O,</text>
<text x="357.00" y="48.90" font-size="5.6" font-weight="bold" text-anchor="middle" fill="#222" textLength="59.20" lengthAdjust="spacingAndGlyphs">1 CARBONITE SDPE)</text>
<line x1="262.50" y1="372.50" x2="303.80" y2="372.50" stroke="#969696" stroke-width="0.45"/>
<line x1="263.00" y1="371.70" x2="261.80" y2="372.50" stroke="#969696" stroke-width="0.3"/>
<line x1="261.80" y1="372.50" x2="263.00" y2="373.30" stroke="#969696" stroke-width="0.3"/>
<text x="265.60" y="370.73" font-size="1.9500000000000002" font-weight="bold" text-anchor="start" fill="#4a4a4a" textLength="9.40" lengthAdjust="spacingAndGlyphs">SDI 12</text>
<text x="306.20" y="370.71" font-size="1.8199999999999998" font-weight="bold" text-anchor="start" fill="#767676" textLength="14.40" lengthAdjust="spacingAndGlyphs">ULT SDI 1.4</text>
<line x1="262.50" y1="376.50" x2="303.80" y2="376.50" stroke="#969696" stroke-width="0.45"/>
<line x1="263.00" y1="376.09" x2="261.80" y2="376.89" stroke="#969696" stroke-width="0.3"/>
<line x1="261.80" y1="376.89" x2="263.00" y2="377.69" stroke="#969696" stroke-width="0.3"/>
<text x="265.60" y="375.12" font-size="1.9500000000000002" font-weight="bold" text-anchor="start" fill="#4a4a4a" textLength="9.40" lengthAdjust="spacingAndGlyphs">SDI 12</text>
<text x="306.20" y="375.10" font-size="1.8199999999999998" font-weight="bold" text-anchor="start" fill="#767676" textLength="14.40" lengthAdjust="spacingAndGlyphs">ULT SDI 1.4</text>
<line x1="262.50" y1="381.50" x2="303.80" y2="381.50" stroke="#969696" stroke-width="0.45"/>
<line x1="263.00" y1="380.48" x2="261.80" y2="381.28" stroke="#969696" stroke-width="0.3"/>
<line x1="261.80" y1="381.28" x2="263.00" y2="382.08" stroke="#969696" stroke-width="0.3"/>
<text x="265.60" y="379.50" font-size="1.9500000000000002" font-weight="bold" text-anchor="start" fill="#4a4a4a" textLength="9.40" lengthAdjust="spacingAndGlyphs">SDI 12</text>
<text x="306.20" y="379.49" font-size="1.8199999999999998" font-weight="bold" text-anchor="start" fill="#767676" textLength="14.40" lengthAdjust="spacingAndGlyphs">ULT SDI 1.4</text>
<line x1="262.50" y1="385.50" x2="303.80" y2="385.50" stroke="#969696" stroke-width="0.45"/>
<line x1="263.00" y1="384.87" x2="261.80" y2="385.67" stroke="#969696" stroke-width="0.3"/>
<line x1="261.80" y1="385.67" x2="263.00" y2="386.47" stroke="#969696" stroke-width="0.3"/>
<text x="265.60" y="383.90" font-size="1.9500000000000002" font-weight="bold" text-anchor="start" fill="#4a4a4a" textLength="9.40" lengthAdjust="spacingAndGlyphs">SDI 12</text>
<text x="306.20" y="383.88" font-size="1.8199999999999998" font-weight="bold" text-anchor="start" fill="#767676" textLength="14.40" lengthAdjust="spacingAndGlyphs">ULT SDI 1.4</text>
<line x1="262.50" y1="390.50" x2="303.80" y2="390.50" stroke="#969696" stroke-width="0.45"/>
<line x1="263.00" y1="389.26" x2="261.80" y2="390.06" stroke="#969696" stroke-width="0.3"/>
<line x1="261.80" y1="390.06" x2="263.00" y2="390.86" stroke="#969696" stroke-width="0.3"/>
<text x="265.60" y="388.29" font-size="1.9500000000000002" font-weight="bold" text-anchor="start" fill="#4a4a4a" textLength="9.40" lengthAdjust="spacingAndGlyphs">SDI 12</text>
<text x="306.20" y="388.27" font-size="1.8199999999999998" font-weight="bold" text-anchor="start" fill="#767676" textLength="14.40" lengthAdjust="spacingAndGlyphs">ULT SDI 1.4</text>
<line x1="262.50" y1="394.50" x2="303.80" y2="394.50" stroke="#969696" stroke-width="0.45"/>
<line x1="263.00" y1="393.65" x2="261.80" y2="394.45" stroke="#969696" stroke-width="0.3"/>
<line x1="261.80" y1="394.45" x2="263.00" y2="395.25" stroke="#969696" stroke-width="0.3"/>
<text x="265.60" y="392.68" font-size="1.9500000000000002" font-weight="bold" text-anchor="start" fill="#4a4a4a" textLength="9.40" lengthAdjust="spacingAndGlyphs">SDI 12</text>
<text x="306.20" y="392.66" font-size="1.8199999999999998" font-weight="bold" text-anchor="start" fill="#767676" textLength="14.40" lengthAdjust="spacingAndGlyphs">ULT SDI 1.4</text>
<line x1="262.50" y1="398.50" x2="303.80" y2="398.50" stroke="#969696" stroke-width="0.45"/>
<line x1="263.00" y1="398.04" x2="261.80" y2="398.84" stroke="#969696" stroke-width="0.3"/>
<line x1="261.80" y1="398.84" x2="263.00" y2="399.64" stroke="#969696" stroke-width="0.3"/>
<text x="265.60" y="397.06" font-size="1.9500000000000002" font-weight="bold" text-anchor="start" fill="#4a4a4a" textLength="9.40" lengthAdjust="spacingAndGlyphs">SDI 12</text>
<text x="306.20" y="397.05" font-size="1.8199999999999998" font-weight="bold" text-anchor="start" fill="#767676" textLength="14.40" lengthAdjust="spacingAndGlyphs">ULT SDI 1.4</text>
<line x1="262.50" y1="403.50" x2="303.80" y2="403.50" stroke="#969696" stroke-width="0.45"/>
<line x1="263.00" y1="402.43" x2="261.80" y2="403.23" stroke="#969696" stroke-width="0.3"/>
<line x1="261.80" y1="403.23" x2="263.00" y2="404.03" stroke="#969696" stroke-width="0.3"/>
<text x="265.60" y="401.46" font-size="1.9500000000000002" font-weight="bold" text-anchor="start" fill="#4a4a4a" textLength="9.40" lengthAdjust="spacingAndGlyphs">SDI 12</text>
<text x="306.20" y="401.44" font-size="1.8199999999999998" font-weight="bold" text-anchor="start" fill="#767676" textLength="14.40" lengthAdjust="spacingAndGlyphs">ULT SDI 1.4</text>
<line x1="262.50" y1="407.50" x2="303.80" y2="407.50" stroke="#969696" stroke-width="0.45"/>
<line x1="263.00" y1="406.82" x2="261.80" y2="407.62" stroke="#969696" stroke-width="0.3"/>
<line x1="261.80" y1="407.62" x2="263.00" y2="408.42" stroke="#969696" stroke-width="0.3"/>
<text x="265.60" y="405.85" font-size="1.9500000000000002" font-weight="bold" text-anchor="start" fill="#4a4a4a" textLength="9.40" lengthAdjust="spacingAndGlyphs">SDI 12</text>
<text x="306.20" y="405.83" font-size="1.8199999999999998" font-weight="bold" text-anchor="start" fill="#767676" textLength="14.40" lengthAdjust="spacingAndGlyphs">ULT SDI 1.4</text>
<line x1="262.50" y1="412.50" x2="303.80" y2="412.50" stroke="#969696" stroke-width="0.45"/>
<line x1="263.00" y1="411.21" x2="261.80" y2="412.01" stroke="#969696" stroke-width="0.3"/>
<line x1="261.80" y1="412.01" x2="263.00" y2="412.81" stroke="#969696" stroke-width="0.3"/>
<text x="265.60" y="410.24" font-size="1.9500000000000002" font-weight="bold" text-anchor="start" fill="#4a4a4a" textLength="9.40" lengthAdjust="spacingAndGlyphs">SDI 12</text>
<text x="306.20" y="410.22" font-size="1.8199999999999998" font-weight="bold" text-anchor="start" fill="#767676" textLength="14.40" lengthAdjust="spacingAndGlyphs">ULT SDI 1.4</text>
<line x1="262.50" y1="416.50" x2="303.80" y2="416.50" stroke="#969696" stroke-width="0.45"/>
<line x1="263.00" y1="415.60" x2="261.80" y2="416.40" stroke="#969696" stroke-width="0.3"/>
<line x1="261.80" y1="416.40" x2="263.00" y2="417.20" stroke="#969696" stroke-width="0.3"/>
<text x="265.60" y="414.62" font-size="1.9500000000000002" font-weight="bold" text-anchor="start" fill="#4a4a4a" textLength="9.40" lengthAdjust="spacingAndGlyphs">SDI 12</text>
<text x="306.20" y="414.61" font-size="1.8199999999999998" font-weight="bold" text-anchor="start" fill="#767676" textLength="14.40" lengthAdjust="spacingAndGlyphs">ULT SDI 1.4</text>
<line x1="262.50" y1="420.50" x2="303.80" y2="420.50" stroke="#969696" stroke-width="0.45"/>
<line x1="263.00" y1="419.99" x2="261.80" y2="420.79" stroke="#969696" stroke-width="0.3"/>
<line x1="261.80" y1="420.79" x2="263.00" y2="421.59" stroke="#969696" stroke-width="0.3"/>
<text x="265.60" y="419.02" font-size="1.9500000000000002" font-weight="bold" text-anchor="start" fill="#4a4a4a" textLength="9.40" lengthAdjust="spacingAndGlyphs">SDI 12</text>
<text x="306.20" y="419.00" font-size="1.8199999999999998" font-weight="bold" text-anchor="start" fill="#767676" textLength="14.40" lengthAdjust="spacingAndGlyphs">ULT SDI 1.4</text>
<line x1="262.50" y1="425.50" x2="303.80" y2="425.50" stroke="#969696" stroke-width="0.45"/>
<line x1="263.00" y1="424.38" x2="261.80" y2="425.18" stroke="#969696" stroke-width="0.3"/>
<line x1="261.80" y1="425.18" x2="263.00" y2="425.98" stroke="#969696" stroke-width="0.3"/>
<text x="265.60" y="423.41" font-size="1.9500000000000002" font-weight="bold" text-anchor="start" fill="#4a4a4a" textLength="9.40" lengthAdjust="spacingAndGlyphs">SDI 12</text>
<text x="306.20" y="423.39" font-size="1.8199999999999998" font-weight="bold" text-anchor="start" fill="#767676" textLength="14.40" lengthAdjust="spacingAndGlyphs">ULT SDI 1.4</text>
<line x1="262.50" y1="429.50" x2="303.80" y2="429.50" stroke="#969696" stroke-width="0.45"/>
<line x1="263.00" y1="428.77" x2="261.80" y2="429.57" stroke="#969696" stroke-width="0.3"/>
<line x1="261.80" y1="429.57" x2="263.00" y2="430.37" stroke="#969696" stroke-width="0.3"/>
<text x="265.60" y="427.80" font-size="1.9500000000000002" font-weight="bold" text-anchor="start" fill="#4a4a4a" textLength="9.40" lengthAdjust="spacingAndGlyphs">SDI 12</text>
<text x="306.20" y="427.78" font-size="1.8199999999999998" font-weight="bold" text-anchor="start" fill="#767676" textLength="14.40" lengthAdjust="spacingAndGlyphs">ULT SDI 1.4</text>
<line x1="410.30" y1="345.50" x2="435.60" y2="345.50" stroke="#969696" stroke-width="0.45"/>
<text x="393.00" y="345.61" font-size="1.8199999999999998" font-weight="bold" text-anchor="start" fill="#767676" textLength="14.80" lengthAdjust="spacingAndGlyphs">ULT SDI 1.4</text>
<text x="435.80" y="344.83" font-size="1.9500000000000002" font-weight="bold" text-anchor="start" fill="#4a4a4a" textLength="9.20" lengthAdjust="spacingAndGlyphs">SDI 12</text>
<text x="447.00" y="346.37" font-size="1.4300000000000002" font-weight="bold" text-anchor="start" fill="#4a4a4a" textLength="3.00" lengthAdjust="spacingAndGlyphs">OUT</text>
<line x1="410.30" y1="349.50" x2="435.60" y2="349.50" stroke="#969696" stroke-width="0.45"/>
<text x="393.00" y="350.00" font-size="1.8199999999999998" font-weight="bold" text-anchor="start" fill="#767676" textLength="14.80" lengthAdjust="spacingAndGlyphs">ULT SDI 1.4</text>
<text x="435.80" y="349.22" font-size="1.9500000000000002" font-weight="bold" text-anchor="start" fill="#4a4a4a" textLength="9.20" lengthAdjust="spacingAndGlyphs">SDI 12</text>
<text x="447.00" y="350.76" font-size="1.4300000000000002" font-weight="bold" text-anchor="start" fill="#4a4a4a" textLength="3.00" lengthAdjust="spacingAndGlyphs">OUT</text>
<line x1="410.30" y1="354.50" x2="435.60" y2="354.50" stroke="#969696" stroke-width="0.45"/>
<text x="393.00" y="354.39" font-size="1.8199999999999998" font-weight="bold" text-anchor="start" fill="#767676" textLength="14.80" lengthAdjust="spacingAndGlyphs">ULT SDI 1.4</text>
<text x="435.80" y="353.61" font-size="1.9500000000000002" font-weight="bold" text-anchor="start" fill="#4a4a4a" textLength="9.20" lengthAdjust="spacingAndGlyphs">SDI 12</text>
<text x="447.00" y="355.15" font-size="1.4300000000000002" font-weight="bold" text-anchor="start" fill="#4a4a4a" textLength="3.00" lengthAdjust="spacingAndGlyphs">OUT</text>
<line x1="410.30" y1="358.50" x2="435.60" y2="358.50" stroke="#969696" stroke-width="0.45"/>
<text x="393.00" y="358.78" font-size="1.8199999999999998" font-weight="bold" text-anchor="start" fill="#767676" textLength="14.80" lengthAdjust="spacingAndGlyphs">ULT SDI 1.4</text>
<text x="435.80" y="358.00" font-size="1.9500000000000002" font-weight="bold" text-anchor="start" fill="#4a4a4a" textLength="9.20" lengthAdjust="spacingAndGlyphs">SDI 12</text>
<text x="447.00" y="359.54" font-size="1.4300000000000002" font-weight="bold" text-anchor="start" fill="#4a4a4a" textLength="3.00" lengthAdjust="spacingAndGlyphs">OUT</text>
<line x1="410.30" y1="363.50" x2="435.60" y2="363.50" stroke="#969696" stroke-width="0.45"/>
<text x="393.00" y="363.17" font-size="1.8199999999999998" font-weight="bold" text-anchor="start" fill="#767676" textLength="14.80" lengthAdjust="spacingAndGlyphs">ULT SDI 1.4</text>
<text x="435.80" y="362.39" font-size="1.9500000000000002" font-weight="bold" text-anchor="start" fill="#4a4a4a" textLength="9.20" lengthAdjust="spacingAndGlyphs">SDI 12</text>
<text x="447.00" y="363.93" font-size="1.4300000000000002" font-weight="bold" text-anchor="start" fill="#4a4a4a" textLength="3.00" lengthAdjust="spacingAndGlyphs">OUT</text>
<line x1="410.30" y1="367.50" x2="435.60" y2="367.50" stroke="#969696" stroke-width="0.45"/>
<text x="393.00" y="367.56" font-size="1.8199999999999998" font-weight="bold" text-anchor="start" fill="#767676" textLength="14.80" lengthAdjust="spacingAndGlyphs">ULT SDI 1.4</text>
<text x="435.80" y="366.78" font-size="1.9500000000000002" font-weight="bold" text-anchor="start" fill="#4a4a4a" textLength="9.20" lengthAdjust="spacingAndGlyphs">SDI 12</text>
<text x="447.00" y="368.32" font-size="1.4300000000000002" font-weight="bold" text-anchor="start" fill="#4a4a4a" textLength="3.00" lengthAdjust="spacingAndGlyphs">OUT</text>
<line x1="410.30" y1="371.50" x2="435.60" y2="371.50" stroke="#969696" stroke-width="0.45"/>
<text x="393.00" y="371.95" font-size="1.8199999999999998" font-weight="bold" text-anchor="start" fill="#767676" textLength="14.80" lengthAdjust="spacingAndGlyphs">ULT SDI 1.4</text>
<text x="435.80" y="371.17" font-size="1.9500000000000002" font-weight="bold" text-anchor="start" fill="#4a4a4a" textLength="9.20" lengthAdjust="spacingAndGlyphs">SDI 12</text>
<text x="447.00" y="372.71" font-size="1.4300000000000002" font-weight="bold" text-anchor="start" fill="#4a4a4a" textLength="3.00" lengthAdjust="spacingAndGlyphs">OUT</text>
<line x1="410.30" y1="376.50" x2="435.60" y2="376.50" stroke="#969696" stroke-width="0.45"/>
<text x="393.00" y="376.34" font-size="1.8199999999999998" font-weight="bold" text-anchor="start" fill="#767676" textLength="14.80" lengthAdjust="spacingAndGlyphs">ULT SDI 1.4</text>
<text x="435.80" y="375.56" font-size="1.9500000000000002" font-weight="bold" text-anchor="start" fill="#4a4a4a" textLength="9.20" lengthAdjust="spacingAndGlyphs">SDI 12</text>
<text x="447.00" y="377.10" font-size="1.4300000000000002" font-weight="bold" text-anchor="start" fill="#4a4a4a" textLength="3.00" lengthAdjust="spacingAndGlyphs">OUT</text>
<line x1="410.30" y1="380.50" x2="435.60" y2="380.50" stroke="#969696" stroke-width="0.45"/>
<text x="393.00" y="380.73" font-size="1.8199999999999998" font-weight="bold" text-anchor="start" fill="#767676" textLength="14.80" lengthAdjust="spacingAndGlyphs">ULT SDI 1.4</text>
<text x="435.80" y="379.95" font-size="1.9500000000000002" font-weight="bold" text-anchor="start" fill="#4a4a4a" textLength="9.20" lengthAdjust="spacingAndGlyphs">SDI 12</text>
<text x="447.00" y="381.49" font-size="1.4300000000000002" font-weight="bold" text-anchor="start" fill="#4a4a4a" textLength="3.00" lengthAdjust="spacingAndGlyphs">OUT</text>
<line x1="410.30" y1="385.50" x2="435.60" y2="385.50" stroke="#969696" stroke-width="0.45"/>
<text x="393.00" y="385.12" font-size="1.8199999999999998" font-weight="bold" text-anchor="start" fill="#767676" textLength="14.80" lengthAdjust="spacingAndGlyphs">ULT SDI 1.4</text>
<text x="435.80" y="384.34" font-size="1.9500000000000002" font-weight="bold" text-anchor="start" fill="#4a4a4a" textLength="9.20" lengthAdjust="spacingAndGlyphs">SDI 12</text>
<text x="447.00" y="385.88" font-size="1.4300000000000002" font-weight="bold" text-anchor="start" fill="#4a4a4a" textLength="3.00" lengthAdjust="spacingAndGlyphs">OUT</text>
<line x1="410.30" y1="389.50" x2="435.60" y2="389.50" stroke="#969696" stroke-width="0.45"/>
<text x="393.00" y="389.51" font-size="1.8199999999999998" font-weight="bold" text-anchor="start" fill="#767676" textLength="14.80" lengthAdjust="spacingAndGlyphs">ULT SDI 1.4</text>
<text x="435.80" y="388.73" font-size="1.9500000000000002" font-weight="bold" text-anchor="start" fill="#4a4a4a" textLength="9.20" lengthAdjust="spacingAndGlyphs">SDI 12</text>
<text x="447.00" y="390.27" font-size="1.4300000000000002" font-weight="bold" text-anchor="start" fill="#4a4a4a" textLength="3.00" lengthAdjust="spacingAndGlyphs">OUT</text>
<line x1="410.30" y1="393.50" x2="435.60" y2="393.50" stroke="#969696" stroke-width="0.45"/>
<text x="393.00" y="393.90" font-size="1.8199999999999998" font-weight="bold" text-anchor="start" fill="#767676" textLength="14.80" lengthAdjust="spacingAndGlyphs">ULT SDI 1.4</text>
<text x="435.80" y="393.12" font-size="1.9500000000000002" font-weight="bold" text-anchor="start" fill="#4a4a4a" textLength="9.20" lengthAdjust="spacingAndGlyphs">SDI 12</text>
<text x="447.00" y="394.66" font-size="1.4300000000000002" font-weight="bold" text-anchor="start" fill="#4a4a4a" textLength="3.00" lengthAdjust="spacingAndGlyphs">OUT</text>
<line x1="410.30" y1="398.50" x2="435.60" y2="398.50" stroke="#969696" stroke-width="0.45"/>
<text x="393.00" y="398.29" font-size="1.8199999999999998" font-weight="bold" text-anchor="start" fill="#767676" textLength="14.80" lengthAdjust="spacingAndGlyphs">ULT SDI 1.4</text>
<text x="435.80" y="397.51" font-size="1.9500000000000002" font-weight="bold" text-anchor="start" fill="#4a4a4a" textLength="9.20" lengthAdjust="spacingAndGlyphs">SDI 12</text>
<text x="447.00" y="399.05" font-size="1.4300000000000002" font-weight="bold" text-anchor="start" fill="#4a4a4a" textLength="3.00" lengthAdjust="spacingAndGlyphs">OUT</text>
<line x1="410.30" y1="402.50" x2="435.60" y2="402.50" stroke="#969696" stroke-width="0.45"/>
<text x="393.00" y="402.68" font-size="1.8199999999999998" font-weight="bold" text-anchor="start" fill="#767676" textLength="14.80" lengthAdjust="spacingAndGlyphs">ULT SDI 1.4</text>
<text x="435.80" y="401.90" font-size="1.9500000000000002" font-weight="bold" text-anchor="start" fill="#4a4a4a" textLength="9.20" lengthAdjust="spacingAndGlyphs">SDI 12</text>
<text x="447.00" y="403.44" font-size="1.4300000000000002" font-weight="bold" text-anchor="start" fill="#4a4a4a" textLength="3.00" lengthAdjust="spacingAndGlyphs">OUT</text>
<line x1="410.30" y1="407.50" x2="435.60" y2="407.50" stroke="#969696" stroke-width="0.45"/>
<text x="393.00" y="407.07" font-size="1.8199999999999998" font-weight="bold" text-anchor="start" fill="#767676" textLength="14.80" lengthAdjust="spacingAndGlyphs">ULT SDI 1.4</text>
<text x="435.80" y="406.29" font-size="1.9500000000000002" font-weight="bold" text-anchor="start" fill="#4a4a4a" textLength="9.20" lengthAdjust="spacingAndGlyphs">SDI 12</text>
<text x="447.00" y="407.83" font-size="1.4300000000000002" font-weight="bold" text-anchor="start" fill="#4a4a4a" textLength="3.00" lengthAdjust="spacingAndGlyphs">OUT</text>
<line x1="410.30" y1="411.50" x2="435.60" y2="411.50" stroke="#969696" stroke-width="0.45"/>
<text x="393.00" y="411.46" font-size="1.8199999999999998" font-weight="bold" text-anchor="start" fill="#767676" textLength="14.80" lengthAdjust="spacingAndGlyphs">ULT SDI 1.4</text>
<text x="435.80" y="410.68" font-size="1.9500000000000002" font-weight="bold" text-anchor="start" fill="#4a4a4a" textLength="9.20" lengthAdjust="spacingAndGlyphs">SDI 12</text>
<text x="447.00" y="412.22" font-size="1.4300000000000002" font-weight="bold" text-anchor="start" fill="#4a4a4a" textLength="3.00" lengthAdjust="spacingAndGlyphs">OUT</text>
<line x1="410.30" y1="415.50" x2="435.60" y2="415.50" stroke="#969696" stroke-width="0.45"/>
<text x="393.00" y="415.85" font-size="1.8199999999999998" font-weight="bold" text-anchor="start" fill="#767676" textLength="14.80" lengthAdjust="spacingAndGlyphs">ULT SDI 1.4</text>
<text x="435.80" y="415.07" font-size="1.9500000000000002" font-weight="bold" text-anchor="start" fill="#4a4a4a" textLength="9.20" lengthAdjust="spacingAndGlyphs">SDI 12</text>
<text x="447.00" y="416.61" font-size="1.4300000000000002" font-weight="bold" text-anchor="start" fill="#4a4a4a" textLength="3.00" lengthAdjust="spacingAndGlyphs">OUT</text>
<line x1="410.30" y1="420.50" x2="435.60" y2="420.50" stroke="#969696" stroke-width="0.45"/>
<text x="393.00" y="420.24" font-size="1.8199999999999998" font-weight="bold" text-anchor="start" fill="#767676" textLength="14.80" lengthAdjust="spacingAndGlyphs">ULT SDI 1.4</text>
<text x="435.80" y="419.46" font-size="1.9500000000000002" font-weight="bold" text-anchor="start" fill="#4a4a4a" textLength="9.20" lengthAdjust="spacingAndGlyphs">SDI 12</text>
<text x="447.00" y="421.00" font-size="1.4300000000000002" font-weight="bold" text-anchor="start" fill="#4a4a4a" textLength="3.00" lengthAdjust="spacingAndGlyphs">OUT</text>
<line x1="410.30" y1="424.50" x2="435.60" y2="424.50" stroke="#969696" stroke-width="0.45"/>
<text x="393.00" y="424.63" font-size="1.8199999999999998" font-weight="bold" text-anchor="start" fill="#767676" textLength="14.80" lengthAdjust="spacingAndGlyphs">ULT SDI 1.4</text>
<text x="435.80" y="423.85" font-size="1.9500000000000002" font-weight="bold" text-anchor="start" fill="#4a4a4a" textLength="9.20" lengthAdjust="spacingAndGlyphs">SDI 12</text>
<text x="447.00" y="425.39" font-size="1.4300000000000002" font-weight="bold" text-anchor="start" fill="#4a4a4a" textLength="3.00" lengthAdjust="spacingAndGlyphs">OUT</text>
<line x1="410.30" y1="429.50" x2="435.60" y2="429.50" stroke="#969696" stroke-width="0.45"/>
<text x="393.00" y="429.02" font-size="1.8199999999999998" font-weight="bold" text-anchor="start" fill="#767676" textLength="14.80" lengthAdjust="spacingAndGlyphs">ULT SDI 1.4</text>
<text x="435.80" y="428.24" font-size="1.9500000000000002" font-weight="bold" text-anchor="start" fill="#4a4a4a" textLength="9.20" lengthAdjust="spacingAndGlyphs">SDI 12</text>
<text x="447.00" y="429.78" font-size="1.4300000000000002" font-weight="bold" text-anchor="start" fill="#4a4a4a" textLength="3.00" lengthAdjust="spacingAndGlyphs">OUT</text>
<polygon points="449.30,51.90 471.70,60.50 449.30,69.40" fill="none" stroke="#9a9a9a" stroke-width="0.45"/>
<line x1="410.30" y1="60.50" x2="449.30" y2="60.50" stroke="#969696" stroke-width="0.45"/>
<text x="393.20" y="60.33" font-size="1.9500000000000002" font-weight="bold" text-anchor="start" fill="#767676" textLength="14.60" lengthAdjust="spacingAndGlyphs">ULT SDI 1.4</text>
<text x="444.20" y="59.11" font-size="1.8199999999999998" font-weight="bold" text-anchor="start" fill="#4a4a4a" textLength="4.00" lengthAdjust="spacingAndGlyphs">IN</text>
<text x="453.90" y="60.55" font-size="2.21" font-weight="bold" text-anchor="start" fill="#5a5a5a" textLength="6.90" lengthAdjust="spacingAndGlyphs">ULTRIX</text>
<text x="454.80" y="62.70" font-size="1.6900000000000002" font-weight="bold" text-anchor="start" fill="#7a7a7a" textLength="5.20" lengthAdjust="spacingAndGlyphs">DA</text>
<line x1="458.30" y1="55.50" x2="505.00" y2="55.50" stroke="#969696" stroke-width="0.45"/>
<line x1="465.00" y1="58.50" x2="505.00" y2="58.50" stroke="#969696" stroke-width="0.45"/>
<line x1="465.00" y1="63.50" x2="505.00" y2="63.50" stroke="#969696" stroke-width="0.45"/>
<line x1="458.90" y1="65.50" x2="505.00" y2="65.50" stroke="#969696" stroke-width="0.45"/>
<text x="494.00" y="54.52" font-size="1.9500000000000002" font-weight="bold" text-anchor="start" fill="#4a4a4a" textLength="8.60" lengthAdjust="spacingAndGlyphs">SDI 2.3</text>
<text x="494.00" y="57.43" font-size="1.9500000000000002" font-weight="bold" text-anchor="start" fill="#4a4a4a" textLength="8.60" lengthAdjust="spacingAndGlyphs">SDI 2.3</text>
<text x="494.00" y="62.52" font-size="1.9500000000000002" font-weight="bold" text-anchor="start" fill="#4a4a4a" textLength="8.60" lengthAdjust="spacingAndGlyphs">SDI 2.3</text>
<text x="494.00" y="65.12" font-size="1.9500000000000002" font-weight="bold" text-anchor="start" fill="#4a4a4a" textLength="8.60" lengthAdjust="spacingAndGlyphs">SDI 2.3</text>
<text x="504.60" y="55.88" font-size="1.56" font-weight="bold" text-anchor="start" fill="#4a4a4a" textLength="2.70" lengthAdjust="spacingAndGlyphs">OUT</text>
<text x="504.60" y="58.98" font-size="1.56" font-weight="bold" text-anchor="start" fill="#4a4a4a" textLength="2.70" lengthAdjust="spacingAndGlyphs">OUT</text>
<text x="504.60" y="63.98" font-size="1.56" font-weight="bold" text-anchor="start" fill="#4a4a4a" textLength="2.70" lengthAdjust="spacingAndGlyphs">OUT</text>
<text x="504.60" y="66.48" font-size="1.56" font-weight="bold" text-anchor="start" fill="#4a4a4a" textLength="2.70" lengthAdjust="spacingAndGlyphs">OUT</text>
<polygon points="449.30,74.20 471.70,82.80 449.30,91.70" fill="none" stroke="#9a9a9a" stroke-width="0.45"/>
<line x1="410.30" y1="82.50" x2="449.30" y2="82.50" stroke="#969696" stroke-width="0.45"/>
<text x="393.20" y="82.62" font-size="1.9500000000000002" font-weight="bold" text-anchor="start" fill="#767676" textLength="14.60" lengthAdjust="spacingAndGlyphs">ULT SDI 1.4</text>
<text x="444.20" y="81.41" font-size="1.8199999999999998" font-weight="bold" text-anchor="start" fill="#4a4a4a" textLength="4.00" lengthAdjust="spacingAndGlyphs">IN</text>
<text x="453.90" y="82.85" font-size="2.21" font-weight="bold" text-anchor="start" fill="#5a5a5a" textLength="6.90" lengthAdjust="spacingAndGlyphs">ULTRIX</text>
<text x="454.80" y="84.99" font-size="1.6900000000000002" font-weight="bold" text-anchor="start" fill="#7a7a7a" textLength="5.20" lengthAdjust="spacingAndGlyphs">DA</text>
<line x1="458.30" y1="77.50" x2="505.00" y2="77.50" stroke="#969696" stroke-width="0.45"/>
<line x1="465.00" y1="80.50" x2="505.00" y2="80.50" stroke="#969696" stroke-width="0.45"/>
<line x1="465.00" y1="85.50" x2="505.00" y2="85.50" stroke="#969696" stroke-width="0.45"/>
<line x1="458.90" y1="88.50" x2="505.00" y2="88.50" stroke="#969696" stroke-width="0.45"/>
<text x="494.00" y="76.82" font-size="1.9500000000000002" font-weight="bold" text-anchor="start" fill="#4a4a4a" textLength="8.60" lengthAdjust="spacingAndGlyphs">SDI 2.3</text>
<text x="494.00" y="79.72" font-size="1.9500000000000002" font-weight="bold" text-anchor="start" fill="#4a4a4a" textLength="8.60" lengthAdjust="spacingAndGlyphs">SDI 2.3</text>
<text x="494.00" y="84.82" font-size="1.9500000000000002" font-weight="bold" text-anchor="start" fill="#4a4a4a" textLength="8.60" lengthAdjust="spacingAndGlyphs">SDI 2.3</text>
<text x="494.00" y="87.42" font-size="1.9500000000000002" font-weight="bold" text-anchor="start" fill="#4a4a4a" textLength="8.60" lengthAdjust="spacingAndGlyphs">SDI 2.3</text>
<text x="504.60" y="78.18" font-size="1.56" font-weight="bold" text-anchor="start" fill="#4a4a4a" textLength="2.70" lengthAdjust="spacingAndGlyphs">OUT</text>
<text x="504.60" y="81.28" font-size="1.56" font-weight="bold" text-anchor="start" fill="#4a4a4a" textLength="2.70" lengthAdjust="spacingAndGlyphs">OUT</text>
<text x="504.60" y="86.28" font-size="1.56" font-weight="bold" text-anchor="start" fill="#4a4a4a" textLength="2.70" lengthAdjust="spacingAndGlyphs">OUT</text>
<text x="504.60" y="88.78" font-size="1.56" font-weight="bold" text-anchor="start" fill="#4a4a4a" textLength="2.70" lengthAdjust="spacingAndGlyphs">OUT</text>
<polygon points="449.30,96.50 471.70,105.10 449.30,114.00" fill="none" stroke="#9a9a9a" stroke-width="0.45"/>
<line x1="410.30" y1="105.50" x2="449.30" y2="105.50" stroke="#969696" stroke-width="0.45"/>
<text x="393.20" y="104.92" font-size="1.9500000000000002" font-weight="bold" text-anchor="start" fill="#767676" textLength="14.60" lengthAdjust="spacingAndGlyphs">ULT SDI 1.4</text>
<text x="444.20" y="103.71" font-size="1.8199999999999998" font-weight="bold" text-anchor="start" fill="#4a4a4a" textLength="4.00" lengthAdjust="spacingAndGlyphs">IN</text>
<text x="453.90" y="105.15" font-size="2.21" font-weight="bold" text-anchor="start" fill="#5a5a5a" textLength="6.90" lengthAdjust="spacingAndGlyphs">ULTRIX</text>
<text x="454.80" y="107.29" font-size="1.6900000000000002" font-weight="bold" text-anchor="start" fill="#7a7a7a" textLength="5.20" lengthAdjust="spacingAndGlyphs">DA</text>
<line x1="458.30" y1="99.50" x2="505.00" y2="99.50" stroke="#969696" stroke-width="0.45"/>
<line x1="465.00" y1="102.50" x2="505.00" y2="102.50" stroke="#969696" stroke-width="0.45"/>
<line x1="465.00" y1="107.50" x2="505.00" y2="107.50" stroke="#969696" stroke-width="0.45"/>
<line x1="458.90" y1="110.50" x2="505.00" y2="110.50" stroke="#969696" stroke-width="0.45"/>
<text x="494.00" y="99.12" font-size="1.9500000000000002" font-weight="bold" text-anchor="start" fill="#4a4a4a" textLength="8.60" lengthAdjust="spacingAndGlyphs">SDI 2.3</text>
<text x="494.00" y="102.02" font-size="1.9500000000000002" font-weight="bold" text-anchor="start" fill="#4a4a4a" textLength="8.60" lengthAdjust="spacingAndGlyphs">SDI 2.3</text>
<text x="494.00" y="107.12" font-size="1.9500000000000002" font-weight="bold" text-anchor="start" fill="#4a4a4a" textLength="8.60" lengthAdjust="spacingAndGlyphs">SDI 2.3</text>
<text x="494.00" y="109.72" font-size="1.9500000000000002" font-weight="bold" text-anchor="start" fill="#4a4a4a" textLength="8.60" lengthAdjust="spacingAndGlyphs">SDI 2.3</text>
<text x="504.60" y="100.48" font-size="1.56" font-weight="bold" text-anchor="start" fill="#4a4a4a" textLength="2.70" lengthAdjust="spacingAndGlyphs">OUT</text>
<text x="504.60" y="103.58" font-size="1.56" font-weight="bold" text-anchor="start" fill="#4a4a4a" textLength="2.70" lengthAdjust="spacingAndGlyphs">OUT</text>
<text x="504.60" y="108.58" font-size="1.56" font-weight="bold" text-anchor="start" fill="#4a4a4a" textLength="2.70" lengthAdjust="spacingAndGlyphs">OUT</text>
<text x="504.60" y="111.08" font-size="1.56" font-weight="bold" text-anchor="start" fill="#4a4a4a" textLength="2.70" lengthAdjust="spacingAndGlyphs">OUT</text>
<polygon points="449.30,118.80 471.70,127.40 449.30,136.30" fill="none" stroke="#9a9a9a" stroke-width="0.45"/>
<line x1="410.30" y1="127.50" x2="449.30" y2="127.50" stroke="#969696" stroke-width="0.45"/>
<text x="393.20" y="127.22" font-size="1.9500000000000002" font-weight="bold" text-anchor="start" fill="#767676" textLength="14.60" lengthAdjust="spacingAndGlyphs">ULT SDI 1.4</text>
<text x="444.20" y="126.01" font-size="1.8199999999999998" font-weight="bold" text-anchor="start" fill="#4a4a4a" textLength="4.00" lengthAdjust="spacingAndGlyphs">IN</text>
<text x="453.90" y="127.45" font-size="2.21" font-weight="bold" text-anchor="start" fill="#5a5a5a" textLength="6.90" lengthAdjust="spacingAndGlyphs">ULTRIX</text>
<text x="454.80" y="129.59" font-size="1.6900000000000002" font-weight="bold" text-anchor="start" fill="#7a7a7a" textLength="5.20" lengthAdjust="spacingAndGlyphs">DA</text>
<line x1="458.30" y1="122.50" x2="505.00" y2="122.50" stroke="#969696" stroke-width="0.45"/>
<line x1="465.00" y1="125.50" x2="505.00" y2="125.50" stroke="#969696" stroke-width="0.45"/>
<line x1="465.00" y1="130.50" x2="505.00" y2="130.50" stroke="#969696" stroke-width="0.45"/>
<line x1="458.90" y1="132.50" x2="505.00" y2="132.50" stroke="#969696" stroke-width="0.45"/>
<text x="494.00" y="121.42" font-size="1.9500000000000002" font-weight="bold" text-anchor="start" fill="#4a4a4a" textLength="8.60" lengthAdjust="spacingAndGlyphs">SDI 2.3</text>
<text x="494.00" y="124.33" font-size="1.9500000000000002" font-weight="bold" text-anchor="start" fill="#4a4a4a" textLength="8.60" lengthAdjust="spacingAndGlyphs">SDI 2.3</text>
<text x="494.00" y="129.43" font-size="1.9500000000000002" font-weight="bold" text-anchor="start" fill="#4a4a4a" textLength="8.60" lengthAdjust="spacingAndGlyphs">SDI 2.3</text>
<text x="494.00" y="132.03" font-size="1.9500000000000002" font-weight="bold" text-anchor="start" fill="#4a4a4a" textLength="8.60" lengthAdjust="spacingAndGlyphs">SDI 2.3</text>
<text x="504.60" y="122.78" font-size="1.56" font-weight="bold" text-anchor="start" fill="#4a4a4a" textLength="2.70" lengthAdjust="spacingAndGlyphs">OUT</text>
<text x="504.60" y="125.88" font-size="1.56" font-weight="bold" text-anchor="start" fill="#4a4a4a" textLength="2.70" lengthAdjust="spacingAndGlyphs">OUT</text>
<text x="504.60" y="130.88" font-size="1.56" font-weight="bold" text-anchor="start" fill="#4a4a4a" textLength="2.70" lengthAdjust="spacingAndGlyphs">OUT</text>
<text x="504.60" y="133.38" font-size="1.56" font-weight="bold" text-anchor="start" fill="#4a4a4a" textLength="2.70" lengthAdjust="spacingAndGlyphs">OUT</text>
<polygon points="598.80,15.30 596.56,15.81 594.35,16.45 592.18,17.23 590.07,18.12 588.00,19.14 586.01,20.29 584.08,21.54 582.23,22.91 580.47,24.39 578.79,25.96 577.22,27.64 575.74,29.40 574.37,31.25 573.11,33.17 571.97,35.17 570.94,37.23 570.04,39.34 569.27,41.51 568.63,43.72 568.11,45.96 567.73,48.23 567.49,50.51 567.38,52.81 567.40,55.11 567.56,57.41 567.86,59.69 568.29,61.95 568.85,64.18 569.55,66.37 570.37,68.52 571.32,70.61 572.38,72.65 573.57,74.62 574.87,76.52 576.28,78.33 577.80,80.06 579.42,81.70 581.12,83.24 582.92,84.67 584.80,86.00 584.80,86.00 583.38,84.44 582.04,82.81 580.78,81.12 579.59,79.38 578.50,77.57 577.49,75.72 576.57,73.82 575.75,71.88 575.01,69.90 574.38,67.89 573.83,65.85 573.39,63.79 573.05,61.71 572.81,59.61 572.66,57.51 572.62,55.40 572.68,53.29 572.84,51.19 573.10,49.10 573.46,47.02 573.92,44.96 574.48,42.93 575.13,40.92 575.88,38.95 576.72,37.01 577.66,35.12 578.68,33.28 579.79,31.49 580.98,29.75 582.26,28.07 583.62,26.45 585.05,24.90 586.55,23.42 588.12,22.02 589.76,20.69 591.46,19.44 593.22,18.28 595.03,17.19 596.89,16.20 598.80,15.30" fill="#a0c43c"/>
<polygon points="576.20,52.50 576.67,50.36 577.27,48.25 577.97,46.18 578.79,44.15 579.72,42.17 580.76,40.24 581.90,38.37 583.15,36.57 584.49,34.84 585.93,33.18 587.45,31.61 589.06,30.12 590.75,28.73 592.51,27.43 594.34,26.23 596.24,25.13 598.19,24.14 600.19,23.25 602.24,22.48 604.33,21.82 606.46,21.28 608.60,20.86 610.77,20.56 612.96,20.37 615.15,20.31 617.33,20.37 619.52,20.54 621.69,20.84 623.84,21.26 625.96,21.79 628.05,22.44 630.11,23.21 632.11,24.09 634.07,25.07 635.97,26.17 637.80,27.36 639.57,28.66 641.26,30.05 642.87,31.53 644.40,33.10 644.40,33.10 642.71,31.98 640.98,30.93 639.20,29.96 637.37,29.07 635.51,28.26 633.62,27.53 631.69,26.89 629.74,26.34 627.77,25.87 625.78,25.49 623.77,25.20 621.75,24.99 619.73,24.88 617.70,24.86 615.67,24.93 613.65,25.08 611.64,25.33 609.64,25.67 607.65,26.09 605.69,26.60 603.75,27.20 601.84,27.88 599.97,28.65 598.13,29.50 596.32,30.43 594.56,31.44 592.85,32.53 591.19,33.69 589.58,34.92 588.03,36.23 586.53,37.60 585.10,39.03 583.73,40.53 582.44,42.09 581.21,43.70 580.05,45.37 578.97,47.09 577.97,48.85 577.04,50.66 576.20,52.50" fill="#3ea2dc"/>
<polygon points="561.90,43.80 561.09,46.08 560.42,48.40 559.88,50.77 559.50,53.15 559.25,55.56 559.16,57.98 559.21,60.40 559.40,62.81 559.74,65.21 560.23,67.58 560.86,69.92 561.62,72.21 562.53,74.46 563.57,76.64 564.74,78.76 566.03,80.81 567.45,82.77 568.98,84.64 570.62,86.42 572.37,88.10 574.21,89.66 576.15,91.12 578.17,92.45 580.26,93.66 582.43,94.74 584.66,95.68 586.94,96.49 589.26,97.17 591.62,97.70 594.01,98.08 596.42,98.32 598.84,98.42 601.26,98.37 603.67,98.17 606.07,97.83 608.44,97.34 610.78,96.71 613.07,95.95 615.31,95.04 617.50,94.00 617.50,94.00 615.34,94.53 613.15,94.96 610.95,95.27 608.73,95.48 606.51,95.57 604.28,95.55 602.06,95.42 599.85,95.18 597.65,94.83 595.47,94.37 593.32,93.80 591.20,93.12 589.11,92.34 587.07,91.45 585.07,90.46 583.13,89.38 581.24,88.20 579.42,86.92 577.66,85.56 575.97,84.11 574.35,82.58 572.82,80.97 571.36,79.28 570.00,77.52 568.72,75.70 567.53,73.81 566.44,71.87 565.45,69.88 564.57,67.84 563.78,65.75 563.10,63.63 562.53,61.48 562.06,59.31 561.70,57.11 561.46,54.90 561.32,52.67 561.30,50.45 561.39,48.22 561.59,46.00 561.90,43.80" fill="#f08232"/>
<polygon points="568.80,92.80 570.39,94.27 572.06,95.66 573.80,96.96 575.61,98.16 577.47,99.27 579.40,100.27 581.37,101.17 583.39,101.97 585.44,102.66 587.54,103.24 589.65,103.71 591.79,104.07 593.95,104.31 596.12,104.44 598.29,104.46 600.45,104.36 602.61,104.15 604.76,103.82 606.88,103.38 608.98,102.83 611.05,102.17 613.08,101.40 615.06,100.52 617.00,99.54 618.88,98.46 620.70,97.29 622.46,96.01 624.15,94.65 625.76,93.20 627.30,91.67 628.75,90.06 630.12,88.37 631.39,86.61 632.57,84.79 633.65,82.91 634.63,80.98 635.51,78.99 636.28,76.96 636.95,74.90 637.50,72.80 637.50,72.80 636.59,74.60 635.61,76.37 634.55,78.09 633.42,79.76 632.23,81.39 630.96,82.96 629.63,84.48 628.24,85.94 626.79,87.34 625.28,88.68 623.71,89.96 622.09,91.17 620.43,92.30 618.71,93.37 616.95,94.37 615.16,95.29 613.32,96.13 611.45,96.89 609.55,97.58 607.63,98.18 605.68,98.71 603.71,99.15 601.72,99.51 599.72,99.78 597.71,99.97 595.69,100.07 593.68,100.09 591.66,100.03 589.64,99.88 587.64,99.64 585.65,99.32 583.67,98.92 581.71,98.43 579.77,97.86 577.86,97.22 575.98,96.49 574.12,95.68 572.31,94.79 570.53,93.83 568.80,92.80" fill="#e0358c"/>
<polygon points="588.6,51.3 595.1,51.3 601.7,67.0 608.3,51.3 614.8,51.3 604.8,73.8 598.0,73.8" fill="#262626"/>
<path d="M631,51.3 L621.5,51.3 C616,51.3 612.4,56.5 612.4,62.6 C612.4,68.8 616,74 621.5,74 L631,74 L631,69.4 L624.2,69.4 C620.5,69.4 618.4,66.5 618.4,62.6 C618.4,58.7 620.5,55.8 624.2,55.8 L631,55.8 Z" fill="#262626"/>
<rect x="634.3" y="51.3" width="5.5" height="22.7" fill="#262626"/>
<text x="646.20" y="59.50" font-size="10.4" font-weight="normal" text-anchor="start" fill="#262626" textLength="36.00" lengthAdjust="spacingAndGlyphs" stroke="#262626" stroke-width="0.6">EVENT</text>
<text x="646.20" y="73.80" font-size="10.8" font-weight="normal" text-anchor="start" fill="#262626" textLength="78.00" lengthAdjust="spacingAndGlyphs" stroke="#262626" stroke-width="0.6">TECHNOLOGY</text>
<line x1="640.20" y1="115.50" x2="688.50" y2="115.50" stroke="#969696" stroke-width="0.45"/>
<line x1="688.50" y1="115.60" x2="688.50" y2="129.10" stroke="#b4b4b4" stroke-width="0.4"/>
<line x1="688.50" y1="129.50" x2="640.20" y2="129.50" stroke="#969696" stroke-width="0.45"/>
<line x1="640.50" y1="129.10" x2="640.50" y2="115.60" stroke="#b4b4b4" stroke-width="0.4"/>
<text x="655.00" y="121.87" font-size="2.3400000000000003" font-weight="bold" text-anchor="start" fill="#767676" textLength="18.00" lengthAdjust="spacingAndGlyphs">LCX SDI MON</text>
<text x="657.00" y="124.47" font-size="2.3400000000000003" font-weight="bold" text-anchor="start" fill="#767676" textLength="14.00" lengthAdjust="spacingAndGlyphs">SDI 2.3</text>
<text x="641.00" y="119.28" font-size="1.56" font-weight="bold" text-anchor="start" fill="#767676" textLength="5.00" lengthAdjust="spacingAndGlyphs">IN2</text>
<text x="641.00" y="122.88" font-size="1.56" font-weight="bold" text-anchor="start" fill="#767676" textLength="5.00" lengthAdjust="spacingAndGlyphs">IN2</text>
<text x="641.00" y="127.48" font-size="1.56" font-weight="bold" text-anchor="start" fill="#767676" textLength="5.00" lengthAdjust="spacingAndGlyphs">IN2</text>
<line x1="598.50" y1="120.50" x2="640.20" y2="120.50" stroke="#969696" stroke-width="0.45"/>
<line x1="599.20" y1="119.40" x2="598.00" y2="120.20" stroke="#969696" stroke-width="0.3"/>
<line x1="598.00" y1="120.20" x2="599.20" y2="121.00" stroke="#969696" stroke-width="0.3"/>
<text x="601.30" y="119.04" font-size="2.08" font-weight="bold" text-anchor="start" fill="#4a4a4a" textLength="11.40" lengthAdjust="spacingAndGlyphs">SDI 2.3</text>
<line x1="598.50" y1="123.50" x2="640.20" y2="123.50" stroke="#969696" stroke-width="0.45"/>
<line x1="599.20" y1="122.90" x2="598.00" y2="123.70" stroke="#969696" stroke-width="0.3"/>
<line x1="598.00" y1="123.70" x2="599.20" y2="124.50" stroke="#969696" stroke-width="0.3"/>
<text x="601.30" y="122.54" font-size="2.08" font-weight="bold" text-anchor="start" fill="#4a4a4a" textLength="11.40" lengthAdjust="spacingAndGlyphs">SDI 2.3</text>
<line x1="512.00" y1="183.50" x2="564.40" y2="183.50" stroke="#969696" stroke-width="0.45"/>
<line x1="564.50" y1="183.25" x2="564.50" y2="128.00" stroke="#b4b4b4" stroke-width="0.4"/>
<line x1="564.40" y1="128.50" x2="640.20" y2="128.50" stroke="#969696" stroke-width="0.45"/>
<line x1="639.75" y1="137.50" x2="688.10" y2="137.50" stroke="#969696" stroke-width="0.45"/>
<line x1="688.50" y1="137.50" x2="688.50" y2="162.25" stroke="#b4b4b4" stroke-width="0.4"/>
<line x1="688.10" y1="162.50" x2="639.75" y2="162.50" stroke="#969696" stroke-width="0.45"/>
<line x1="639.50" y1="162.25" x2="639.50" y2="137.50" stroke="#b4b4b4" stroke-width="0.4"/>
<text x="656.90" y="140.84" font-size="2.08" font-weight="bold" text-anchor="start" fill="#4a4a4a" textLength="15.00" lengthAdjust="spacingAndGlyphs">SDI 1 IN</text>
<text x="681.00" y="144.29" font-size="1.6900000000000002" font-weight="bold" text-anchor="start" fill="#767676" textLength="5.90" lengthAdjust="spacingAndGlyphs">IN2</text>
<text x="681.00" y="146.73" font-size="1.6900000000000002" font-weight="bold" text-anchor="start" fill="#767676" textLength="5.90" lengthAdjust="spacingAndGlyphs">IN2</text>
<text x="681.00" y="149.17" font-size="1.6900000000000002" font-weight="bold" text-anchor="start" fill="#767676" textLength="5.90" lengthAdjust="spacingAndGlyphs">IN2</text>
<text x="681.00" y="151.61" font-size="1.6900000000000002" font-weight="bold" text-anchor="start" fill="#767676" textLength="5.90" lengthAdjust="spacingAndGlyphs">IN2</text>
<text x="681.00" y="154.05" font-size="1.6900000000000002" font-weight="bold" text-anchor="start" fill="#767676" textLength="5.90" lengthAdjust="spacingAndGlyphs">IN2</text>
<text x="681.00" y="156.49" font-size="1.6900000000000002" font-weight="bold" text-anchor="start" fill="#767676" textLength="5.90" lengthAdjust="spacingAndGlyphs">IN2</text>
<text x="681.00" y="158.93" font-size="1.6900000000000002" font-weight="bold" text-anchor="start" fill="#767676" textLength="5.90" lengthAdjust="spacingAndGlyphs">IN2</text>
<text x="681.00" y="161.37" font-size="1.6900000000000002" font-weight="bold" text-anchor="start" fill="#767676" textLength="5.90" lengthAdjust="spacingAndGlyphs">IN2</text>
<text x="640.60" y="159.41" font-size="1.8199999999999998" font-weight="bold" text-anchor="start" fill="#767676" textLength="9.40" lengthAdjust="spacingAndGlyphs">OUT 1</text>
<line x1="605.50" y1="159.50" x2="639.75" y2="159.50" stroke="#969696" stroke-width="0.45"/>
<line x1="606.20" y1="158.70" x2="605.00" y2="159.50" stroke="#969696" stroke-width="0.3"/>
<line x1="605.00" y1="159.50" x2="606.20" y2="160.30" stroke="#969696" stroke-width="0.3"/>
<text x="609.00" y="159.19" font-size="2.4699999999999998" font-weight="bold" text-anchor="start" fill="#333" textLength="18.00" lengthAdjust="spacingAndGlyphs">ULT SDI 1.4</text>
<line x1="653.20" y1="201.50" x2="702.00" y2="201.50" stroke="#969696" stroke-width="0.45"/>
<line x1="702.50" y1="201.90" x2="702.50" y2="228.40" stroke="#b4b4b4" stroke-width="0.4"/>
<line x1="702.00" y1="228.50" x2="653.20" y2="228.50" stroke="#969696" stroke-width="0.45"/>
<line x1="653.50" y1="228.40" x2="653.50" y2="201.90" stroke="#b4b4b4" stroke-width="0.4"/>
<text x="673.50" y="204.59" font-size="1.6900000000000002" font-weight="bold" text-anchor="start" fill="#767676" textLength="6.50" lengthAdjust="spacingAndGlyphs">IN 3</text>
<text x="653.80" y="205.73" font-size="1.9500000000000002" font-weight="bold" text-anchor="start" fill="#555" textLength="13.20" lengthAdjust="spacingAndGlyphs">SDI IN 2.1</text>
<text x="653.80" y="207.98" font-size="1.9500000000000002" font-weight="bold" text-anchor="start" fill="#555" textLength="12.00" lengthAdjust="spacingAndGlyphs">SDI IN 2.1</text>
<text x="653.80" y="210.23" font-size="1.9500000000000002" font-weight="bold" text-anchor="start" fill="#555" textLength="10.80" lengthAdjust="spacingAndGlyphs">SDI IN 2.1</text>
<text x="653.80" y="212.48" font-size="1.9500000000000002" font-weight="bold" text-anchor="start" fill="#555" textLength="13.20" lengthAdjust="spacingAndGlyphs">SDI IN 2.1</text>
<text x="653.80" y="214.73" font-size="1.9500000000000002" font-weight="bold" text-anchor="start" fill="#555" textLength="12.00" lengthAdjust="spacingAndGlyphs">SDI IN 2.1</text>
<text x="653.80" y="216.98" font-size="1.9500000000000002" font-weight="bold" text-anchor="start" fill="#555" textLength="10.80" lengthAdjust="spacingAndGlyphs">SDI IN 2.1</text>
<text x="653.80" y="219.23" font-size="1.9500000000000002" font-weight="bold" text-anchor="start" fill="#555" textLength="13.20" lengthAdjust="spacingAndGlyphs">SDI IN 2.1</text>
<text x="653.80" y="221.48" font-size="1.9500000000000002" font-weight="bold" text-anchor="start" fill="#555" textLength="12.00" lengthAdjust="spacingAndGlyphs">SDI IN 2.1</text>
<text x="653.80" y="223.73" font-size="1.9500000000000002" font-weight="bold" text-anchor="start" fill="#555" textLength="10.80" lengthAdjust="spacingAndGlyphs">SDI IN 2.1</text>
<text x="653.80" y="225.98" font-size="1.9500000000000002" font-weight="bold" text-anchor="start" fill="#555" textLength="13.20" lengthAdjust="spacingAndGlyphs">SDI IN 2.1</text>
<text x="653.80" y="228.23" font-size="1.9500000000000002" font-weight="bold" text-anchor="start" fill="#555" textLength="12.00" lengthAdjust="spacingAndGlyphs">SDI IN 2.1</text>
<text x="692.00" y="214.03" font-size="1.9500000000000002" font-weight="bold" text-anchor="start" fill="#666" textLength="9.00" lengthAdjust="spacingAndGlyphs">OUT 1</text>
<line x1="702.00" y1="214.50" x2="728.30" y2="214.50" stroke="#969696" stroke-width="0.45"/>
<text x="729.00" y="214.04" font-size="2.08" font-weight="bold" text-anchor="start" fill="#4a4a4a" textLength="11.00" lengthAdjust="spacingAndGlyphs">SDI 2.3</text>
<text x="742.00" y="215.06" font-size="1.4300000000000002" font-weight="bold" text-anchor="start" fill="#4a4a4a" textLength="3.00" lengthAdjust="spacingAndGlyphs">OUT</text>
<text x="692.00" y="216.72" font-size="1.9500000000000002" font-weight="bold" text-anchor="start" fill="#666" textLength="9.00" lengthAdjust="spacingAndGlyphs">OUT 1</text>
<line x1="702.00" y1="217.50" x2="728.30" y2="217.50" stroke="#969696" stroke-width="0.45"/>
<text x="729.00" y="216.74" font-size="2.08" font-weight="bold" text-anchor="start" fill="#4a4a4a" textLength="11.00" lengthAdjust="spacingAndGlyphs">SDI 2.3</text>
<text x="742.00" y="217.76" font-size="1.4300000000000002" font-weight="bold" text-anchor="start" fill="#4a4a4a" textLength="3.00" lengthAdjust="spacingAndGlyphs">OUT</text>
<text x="692.00" y="219.62" font-size="1.9500000000000002" font-weight="bold" text-anchor="start" fill="#666" textLength="9.00" lengthAdjust="spacingAndGlyphs">OUT 1</text>
<line x1="702.00" y1="220.50" x2="728.30" y2="220.50" stroke="#969696" stroke-width="0.45"/>
<text x="729.00" y="219.64" font-size="2.08" font-weight="bold" text-anchor="start" fill="#4a4a4a" textLength="11.00" lengthAdjust="spacingAndGlyphs">SDI 2.3</text>
<text x="742.00" y="220.66" font-size="1.4300000000000002" font-weight="bold" text-anchor="start" fill="#4a4a4a" textLength="3.00" lengthAdjust="spacingAndGlyphs">OUT</text>
<text x="692.00" y="222.93" font-size="1.9500000000000002" font-weight="bold" text-anchor="start" fill="#666" textLength="9.00" lengthAdjust="spacingAndGlyphs">OUT 1</text>
<line x1="702.00" y1="223.50" x2="728.30" y2="223.50" stroke="#969696" stroke-width="0.45"/>
<text x="729.00" y="222.94" font-size="2.08" font-weight="bold" text-anchor="start" fill="#4a4a4a" textLength="11.00" lengthAdjust="spacingAndGlyphs">SDI 2.3</text>
<text x="742.00" y="223.97" font-size="1.4300000000000002" font-weight="bold" text-anchor="start" fill="#4a4a4a" textLength="3.00" lengthAdjust="spacingAndGlyphs">OUT</text>
<text x="692.00" y="225.62" font-size="1.9500000000000002" font-weight="bold" text-anchor="start" fill="#666" textLength="9.00" lengthAdjust="spacingAndGlyphs">OUT 1</text>
<line x1="702.00" y1="226.50" x2="728.30" y2="226.50" stroke="#969696" stroke-width="0.45"/>
<text x="729.00" y="225.64" font-size="2.08" font-weight="bold" text-anchor="start" fill="#4a4a4a" textLength="11.00" lengthAdjust="spacingAndGlyphs">SDI 2.3</text>
<text x="742.00" y="226.66" font-size="1.4300000000000002" font-weight="bold" text-anchor="start" fill="#4a4a4a" textLength="3.00" lengthAdjust="spacingAndGlyphs">OUT</text>
<text x="622.00" y="207.24" font-size="2.08" font-weight="bold" text-anchor="start" fill="#767676" textLength="18.00" lengthAdjust="spacingAndGlyphs">ULT SDI 1.4</text>
<line x1="620.00" y1="207.50" x2="653.20" y2="207.50" stroke="#969696" stroke-width="0.45"/>
<line x1="620.60" y1="207.10" x2="619.40" y2="207.90" stroke="#969696" stroke-width="0.3"/>
<line x1="619.40" y1="207.90" x2="620.60" y2="208.70" stroke="#969696" stroke-width="0.3"/>
<text x="622.00" y="214.04" font-size="2.08" font-weight="bold" text-anchor="start" fill="#767676" textLength="18.00" lengthAdjust="spacingAndGlyphs">ULT SDI 1.4</text>
<line x1="620.00" y1="214.50" x2="653.20" y2="214.50" stroke="#969696" stroke-width="0.45"/>
<line x1="620.60" y1="213.90" x2="619.40" y2="214.70" stroke="#969696" stroke-width="0.3"/>
<line x1="619.40" y1="214.70" x2="620.60" y2="215.50" stroke="#969696" stroke-width="0.3"/>
<text x="622.00" y="220.14" font-size="2.08" font-weight="bold" text-anchor="start" fill="#767676" textLength="18.00" lengthAdjust="spacingAndGlyphs">ULT SDI 1.4</text>
<line x1="620.00" y1="220.50" x2="653.20" y2="220.50" stroke="#969696" stroke-width="0.45"/>
<line x1="620.60" y1="220.00" x2="619.40" y2="220.80" stroke="#969696" stroke-width="0.3"/>
<line x1="619.40" y1="220.80" x2="620.60" y2="221.60" stroke="#969696" stroke-width="0.3"/>
<text x="622.00" y="224.34" font-size="2.08" font-weight="bold" text-anchor="start" fill="#767676" textLength="18.00" lengthAdjust="spacingAndGlyphs">ULT SDI 1.4</text>
<line x1="620.00" y1="225.50" x2="653.20" y2="225.50" stroke="#969696" stroke-width="0.45"/>
<line x1="620.60" y1="224.20" x2="619.40" y2="225.00" stroke="#969696" stroke-width="0.3"/>
<line x1="619.40" y1="225.00" x2="620.60" y2="225.80" stroke="#969696" stroke-width="0.3"/>
<line x1="653.20" y1="237.50" x2="702.00" y2="237.50" stroke="#969696" stroke-width="0.45"/>
<line x1="702.50" y1="237.50" x2="702.50" y2="264.00" stroke="#b4b4b4" stroke-width="0.4"/>
<line x1="702.00" y1="264.50" x2="653.20" y2="264.50" stroke="#969696" stroke-width="0.45"/>
<line x1="653.50" y1="264.00" x2="653.50" y2="237.50" stroke="#b4b4b4" stroke-width="0.4"/>
<text x="673.50" y="240.19" font-size="1.6900000000000002" font-weight="bold" text-anchor="start" fill="#767676" textLength="6.50" lengthAdjust="spacingAndGlyphs">IN 3</text>
<text x="653.80" y="241.33" font-size="1.9500000000000002" font-weight="bold" text-anchor="start" fill="#555" textLength="13.20" lengthAdjust="spacingAndGlyphs">SDI IN 2.1</text>
<text x="653.80" y="243.58" font-size="1.9500000000000002" font-weight="bold" text-anchor="start" fill="#555" textLength="12.00" lengthAdjust="spacingAndGlyphs">SDI IN 2.1</text>
<text x="653.80" y="245.83" font-size="1.9500000000000002" font-weight="bold" text-anchor="start" fill="#555" textLength="10.80" lengthAdjust="spacingAndGlyphs">SDI IN 2.1</text>
<text x="653.80" y="248.08" font-size="1.9500000000000002" font-weight="bold" text-anchor="start" fill="#555" textLength="13.20" lengthAdjust="spacingAndGlyphs">SDI IN 2.1</text>
<text x="653.80" y="250.33" font-size="1.9500000000000002" font-weight="bold" text-anchor="start" fill="#555" textLength="12.00" lengthAdjust="spacingAndGlyphs">SDI IN 2.1</text>
<text x="653.80" y="252.58" font-size="1.9500000000000002" font-weight="bold" text-anchor="start" fill="#555" textLength="10.80" lengthAdjust="spacingAndGlyphs">SDI IN 2.1</text>
<text x="653.80" y="254.83" font-size="1.9500000000000002" font-weight="bold" text-anchor="start" fill="#555" textLength="13.20" lengthAdjust="spacingAndGlyphs">SDI IN 2.1</text>
<text x="653.80" y="257.08" font-size="1.9500000000000002" font-weight="bold" text-anchor="start" fill="#555" textLength="12.00" lengthAdjust="spacingAndGlyphs">SDI IN 2.1</text>
<text x="653.80" y="259.33" font-size="1.9500000000000002" font-weight="bold" text-anchor="start" fill="#555" textLength="10.80" lengthAdjust="spacingAndGlyphs">SDI IN 2.1</text>
<text x="653.80" y="261.58" font-size="1.9500000000000002" font-weight="bold" text-anchor="start" fill="#555" textLength="13.20" lengthAdjust="spacingAndGlyphs">SDI IN 2.1</text>
<text x="653.80" y="263.83" font-size="1.9500000000000002" font-weight="bold" text-anchor="start" fill="#555" textLength="12.00" lengthAdjust="spacingAndGlyphs">SDI IN 2.1</text>
<text x="692.00" y="249.62" font-size="1.9500000000000002" font-weight="bold" text-anchor="start" fill="#666" textLength="9.00" lengthAdjust="spacingAndGlyphs">OUT 1</text>
<line x1="702.00" y1="250.50" x2="728.30" y2="250.50" stroke="#969696" stroke-width="0.45"/>
<text x="729.00" y="249.64" font-size="2.08" font-weight="bold" text-anchor="start" fill="#4a4a4a" textLength="11.00" lengthAdjust="spacingAndGlyphs">SDI 2.3</text>
<text x="742.00" y="250.66" font-size="1.4300000000000002" font-weight="bold" text-anchor="start" fill="#4a4a4a" textLength="3.00" lengthAdjust="spacingAndGlyphs">OUT</text>
<text x="692.00" y="252.32" font-size="1.9500000000000002" font-weight="bold" text-anchor="start" fill="#666" textLength="9.00" lengthAdjust="spacingAndGlyphs">OUT 1</text>
<line x1="702.00" y1="252.50" x2="728.30" y2="252.50" stroke="#969696" stroke-width="0.45"/>
<text x="729.00" y="252.34" font-size="2.08" font-weight="bold" text-anchor="start" fill="#4a4a4a" textLength="11.00" lengthAdjust="spacingAndGlyphs">SDI 2.3</text>
<text x="742.00" y="253.36" font-size="1.4300000000000002" font-weight="bold" text-anchor="start" fill="#4a4a4a" textLength="3.00" lengthAdjust="spacingAndGlyphs">OUT</text>
<text x="692.00" y="255.22" font-size="1.9500000000000002" font-weight="bold" text-anchor="start" fill="#666" textLength="9.00" lengthAdjust="spacingAndGlyphs">OUT 1</text>
<line x1="702.00" y1="255.50" x2="728.30" y2="255.50" stroke="#969696" stroke-width="0.45"/>
<text x="729.00" y="255.24" font-size="2.08" font-weight="bold" text-anchor="start" fill="#4a4a4a" textLength="11.00" lengthAdjust="spacingAndGlyphs">SDI 2.3</text>
<text x="742.00" y="256.27" font-size="1.4300000000000002" font-weight="bold" text-anchor="start" fill="#4a4a4a" textLength="3.00" lengthAdjust="spacingAndGlyphs">OUT</text>
<text x="692.00" y="258.53" font-size="1.9500000000000002" font-weight="bold" text-anchor="start" fill="#666" textLength="9.00" lengthAdjust="spacingAndGlyphs">OUT 1</text>
<line x1="702.00" y1="258.50" x2="728.30" y2="258.50" stroke="#969696" stroke-width="0.45"/>
<text x="729.00" y="258.54" font-size="2.08" font-weight="bold" text-anchor="start" fill="#4a4a4a" textLength="11.00" lengthAdjust="spacingAndGlyphs">SDI 2.3</text>
<text x="742.00" y="259.57" font-size="1.4300000000000002" font-weight="bold" text-anchor="start" fill="#4a4a4a" textLength="3.00" lengthAdjust="spacingAndGlyphs">OUT</text>
<text x="692.00" y="261.23" font-size="1.9500000000000002" font-weight="bold" text-anchor="start" fill="#666" textLength="9.00" lengthAdjust="spacingAndGlyphs">OUT 1</text>
<line x1="702.00" y1="261.50" x2="728.30" y2="261.50" stroke="#969696" stroke-width="0.45"/>
<text x="729.00" y="261.24" font-size="2.08" font-weight="bold" text-anchor="start" fill="#4a4a4a" textLength="11.00" lengthAdjust="spacingAndGlyphs">SDI 2.3</text>
<text x="742.00" y="262.27" font-size="1.4300000000000002" font-weight="bold" text-anchor="start" fill="#4a4a4a" textLength="3.00" lengthAdjust="spacingAndGlyphs">OUT</text>
<text x="622.00" y="242.84" font-size="2.08" font-weight="bold" text-anchor="start" fill="#767676" textLength="18.00" lengthAdjust="spacingAndGlyphs">ULT SDI 1.4</text>
<line x1="620.00" y1="243.50" x2="653.20" y2="243.50" stroke="#969696" stroke-width="0.45"/>
<line x1="620.60" y1="242.70" x2="619.40" y2="243.50" stroke="#969696" stroke-width="0.3"/>
<line x1="619.40" y1="243.50" x2="620.60" y2="244.30" stroke="#969696" stroke-width="0.3"/>
<text x="622.00" y="249.64" font-size="2.08" font-weight="bold" text-anchor="start" fill="#767676" textLength="18.00" lengthAdjust="spacingAndGlyphs">ULT SDI 1.4</text>
<line x1="620.00" y1="250.50" x2="653.20" y2="250.50" stroke="#969696" stroke-width="0.45"/>
<line x1="620.60" y1="249.50" x2="619.40" y2="250.30" stroke="#969696" stroke-width="0.3"/>
<line x1="619.40" y1="250.30" x2="620.60" y2="251.10" stroke="#969696" stroke-width="0.3"/>
<text x="622.00" y="255.74" font-size="2.08" font-weight="bold" text-anchor="start" fill="#767676" textLength="18.00" lengthAdjust="spacingAndGlyphs">ULT SDI 1.4</text>
<line x1="620.00" y1="256.50" x2="653.20" y2="256.50" stroke="#969696" stroke-width="0.45"/>
<line x1="620.60" y1="255.60" x2="619.40" y2="256.40" stroke="#969696" stroke-width="0.3"/>
<line x1="619.40" y1="256.40" x2="620.60" y2="257.20" stroke="#969696" stroke-width="0.3"/>
<text x="622.00" y="259.94" font-size="2.08" font-weight="bold" text-anchor="start" fill="#767676" textLength="18.00" lengthAdjust="spacingAndGlyphs">ULT SDI 1.4</text>
<line x1="620.00" y1="260.50" x2="653.20" y2="260.50" stroke="#969696" stroke-width="0.45"/>
<line x1="620.60" y1="259.80" x2="619.40" y2="260.60" stroke="#969696" stroke-width="0.3"/>
<line x1="619.40" y1="260.60" x2="620.60" y2="261.40" stroke="#969696" stroke-width="0.3"/>
<line x1="653.20" y1="272.50" x2="702.00" y2="272.50" stroke="#969696" stroke-width="0.45"/>
<line x1="702.50" y1="272.20" x2="702.50" y2="298.70" stroke="#b4b4b4" stroke-width="0.4"/>
<line x1="702.00" y1="298.50" x2="653.20" y2="298.50" stroke="#969696" stroke-width="0.45"/>
<line x1="653.50" y1="298.70" x2="653.50" y2="272.20" stroke="#b4b4b4" stroke-width="0.4"/>
<text x="673.50" y="274.89" font-size="1.6900000000000002" font-weight="bold" text-anchor="start" fill="#767676" textLength="6.50" lengthAdjust="spacingAndGlyphs">IN 3</text>
<text x="653.80" y="276.03" font-size="1.9500000000000002" font-weight="bold" text-anchor="start" fill="#555" textLength="13.20" lengthAdjust="spacingAndGlyphs">SDI IN 2.1</text>
<text x="653.80" y="278.28" font-size="1.9500000000000002" font-weight="bold" text-anchor="start" fill="#555" textLength="12.00" lengthAdjust="spacingAndGlyphs">SDI IN 2.1</text>
<text x="653.80" y="280.53" font-size="1.9500000000000002" font-weight="bold" text-anchor="start" fill="#555" textLength="10.80" lengthAdjust="spacingAndGlyphs">SDI IN 2.1</text>
<text x="653.80" y="282.78" font-size="1.9500000000000002" font-weight="bold" text-anchor="start" fill="#555" textLength="13.20" lengthAdjust="spacingAndGlyphs">SDI IN 2.1</text>
<text x="653.80" y="285.03" font-size="1.9500000000000002" font-weight="bold" text-anchor="start" fill="#555" textLength="12.00" lengthAdjust="spacingAndGlyphs">SDI IN 2.1</text>
<text x="653.80" y="287.28" font-size="1.9500000000000002" font-weight="bold" text-anchor="start" fill="#555" textLength="10.80" lengthAdjust="spacingAndGlyphs">SDI IN 2.1</text>
<text x="653.80" y="289.53" font-size="1.9500000000000002" font-weight="bold" text-anchor="start" fill="#555" textLength="13.20" lengthAdjust="spacingAndGlyphs">SDI IN 2.1</text>
<text x="653.80" y="291.78" font-size="1.9500000000000002" font-weight="bold" text-anchor="start" fill="#555" textLength="12.00" lengthAdjust="spacingAndGlyphs">SDI IN 2.1</text>
<text x="653.80" y="294.03" font-size="1.9500000000000002" font-weight="bold" text-anchor="start" fill="#555" textLength="10.80" lengthAdjust="spacingAndGlyphs">SDI IN 2.1</text>
<text x="653.80" y="296.28" font-size="1.9500000000000002" font-weight="bold" text-anchor="start" fill="#555" textLength="13.20" lengthAdjust="spacingAndGlyphs">SDI IN 2.1</text>
<text x="653.80" y="298.53" font-size="1.9500000000000002" font-weight="bold" text-anchor="start" fill="#555" textLength="12.00" lengthAdjust="spacingAndGlyphs">SDI IN 2.1</text>
<text x="692.00" y="284.32" font-size="1.9500000000000002" font-weight="bold" text-anchor="start" fill="#666" textLength="9.00" lengthAdjust="spacingAndGlyphs">OUT 1</text>
<line x1="702.00" y1="284.50" x2="728.30" y2="284.50" stroke="#969696" stroke-width="0.45"/>
<text x="729.00" y="284.34" font-size="2.08" font-weight="bold" text-anchor="start" fill="#4a4a4a" textLength="11.00" lengthAdjust="spacingAndGlyphs">SDI 2.3</text>
<text x="742.00" y="285.37" font-size="1.4300000000000002" font-weight="bold" text-anchor="start" fill="#4a4a4a" textLength="3.00" lengthAdjust="spacingAndGlyphs">OUT</text>
<text x="692.00" y="287.03" font-size="1.9500000000000002" font-weight="bold" text-anchor="start" fill="#666" textLength="9.00" lengthAdjust="spacingAndGlyphs">OUT 1</text>
<line x1="702.00" y1="287.50" x2="728.30" y2="287.50" stroke="#969696" stroke-width="0.45"/>
<text x="729.00" y="287.04" font-size="2.08" font-weight="bold" text-anchor="start" fill="#4a4a4a" textLength="11.00" lengthAdjust="spacingAndGlyphs">SDI 2.3</text>
<text x="742.00" y="288.07" font-size="1.4300000000000002" font-weight="bold" text-anchor="start" fill="#4a4a4a" textLength="3.00" lengthAdjust="spacingAndGlyphs">OUT</text>
<text x="692.00" y="289.93" font-size="1.9500000000000002" font-weight="bold" text-anchor="start" fill="#666" textLength="9.00" lengthAdjust="spacingAndGlyphs">OUT 1</text>
<line x1="702.00" y1="290.50" x2="728.30" y2="290.50" stroke="#969696" stroke-width="0.45"/>
<text x="729.00" y="289.94" font-size="2.08" font-weight="bold" text-anchor="start" fill="#4a4a4a" textLength="11.00" lengthAdjust="spacingAndGlyphs">SDI 2.3</text>
<text x="742.00" y="290.97" font-size="1.4300000000000002" font-weight="bold" text-anchor="start" fill="#4a4a4a" textLength="3.00" lengthAdjust="spacingAndGlyphs">OUT</text>
<text x="692.00" y="293.23" font-size="1.9500000000000002" font-weight="bold" text-anchor="start" fill="#666" textLength="9.00" lengthAdjust="spacingAndGlyphs">OUT 1</text>
<line x1="702.00" y1="293.50" x2="728.30" y2="293.50" stroke="#969696" stroke-width="0.45"/>
<text x="729.00" y="293.24" font-size="2.08" font-weight="bold" text-anchor="start" fill="#4a4a4a" textLength="11.00" lengthAdjust="spacingAndGlyphs">SDI 2.3</text>
<text x="742.00" y="294.27" font-size="1.4300000000000002" font-weight="bold" text-anchor="start" fill="#4a4a4a" textLength="3.00" lengthAdjust="spacingAndGlyphs">OUT</text>
<text x="692.00" y="295.93" font-size="1.9500000000000002" font-weight="bold" text-anchor="start" fill="#666" textLength="9.00" lengthAdjust="spacingAndGlyphs">OUT 1</text>
<line x1="702.00" y1="296.50" x2="728.30" y2="296.50" stroke="#969696" stroke-width="0.45"/>
<text x="729.00" y="295.94" font-size="2.08" font-weight="bold" text-anchor="start" fill="#4a4a4a" textLength="11.00" lengthAdjust="spacingAndGlyphs">SDI 2.3</text>
<text x="742.00" y="296.97" font-size="1.4300000000000002" font-weight="bold" text-anchor="start" fill="#4a4a4a" textLength="3.00" lengthAdjust="spacingAndGlyphs">OUT</text>
<text x="622.00" y="277.54" font-size="2.08" font-weight="bold" text-anchor="start" fill="#767676" textLength="18.00" lengthAdjust="spacingAndGlyphs">ULT SDI 1.4</text>
<line x1="620.00" y1="278.50" x2="653.20" y2="278.50" stroke="#969696" stroke-width="0.45"/>
<line x1="620.60" y1="277.40" x2="619.40" y2="278.20" stroke="#969696" stroke-width="0.3"/>
<line x1="619.40" y1="278.20" x2="620.60" y2="279.00" stroke="#969696" stroke-width="0.3"/>
<text x="622.00" y="284.34" font-size="2.08" font-weight="bold" text-anchor="start" fill="#767676" textLength="18.00" lengthAdjust="spacingAndGlyphs">ULT SDI 1.4</text>
<line x1="620.00" y1="284.50" x2="653.20" y2="284.50" stroke="#969696" stroke-width="0.45"/>
<line x1="620.60" y1="284.20" x2="619.40" y2="285.00" stroke="#969696" stroke-width="0.3"/>
<line x1="619.40" y1="285.00" x2="620.60" y2="285.80" stroke="#969696" stroke-width="0.3"/>
<text x="622.00" y="290.44" font-size="2.08" font-weight="bold" text-anchor="start" fill="#767676" textLength="18.00" lengthAdjust="spacingAndGlyphs">ULT SDI 1.4</text>
<line x1="620.00" y1="291.50" x2="653.20" y2="291.50" stroke="#969696" stroke-width="0.45"/>
<line x1="620.60" y1="290.30" x2="619.40" y2="291.10" stroke="#969696" stroke-width="0.3"/>
<line x1="619.40" y1="291.10" x2="620.60" y2="291.90" stroke="#969696" stroke-width="0.3"/>
<text x="622.00" y="294.64" font-size="2.08" font-weight="bold" text-anchor="start" fill="#767676" textLength="18.00" lengthAdjust="spacingAndGlyphs">ULT SDI 1.4</text>
<line x1="620.00" y1="295.50" x2="653.20" y2="295.50" stroke="#969696" stroke-width="0.45"/>
<line x1="620.60" y1="294.50" x2="619.40" y2="295.30" stroke="#969696" stroke-width="0.3"/>
<line x1="619.40" y1="295.30" x2="620.60" y2="296.10" stroke="#969696" stroke-width="0.3"/>
<line x1="653.20" y1="308.50" x2="702.00" y2="308.50" stroke="#969696" stroke-width="0.45"/>
<line x1="702.50" y1="308.70" x2="702.50" y2="335.20" stroke="#b4b4b4" stroke-width="0.4"/>
<line x1="702.00" y1="335.50" x2="653.20" y2="335.50" stroke="#969696" stroke-width="0.45"/>
<line x1="653.50" y1="335.20" x2="653.50" y2="308.70" stroke="#b4b4b4" stroke-width="0.4"/>
<text x="673.50" y="311.39" font-size="1.6900000000000002" font-weight="bold" text-anchor="start" fill="#767676" textLength="6.50" lengthAdjust="spacingAndGlyphs">IN 3</text>
<text x="653.80" y="312.53" font-size="1.9500000000000002" font-weight="bold" text-anchor="start" fill="#555" textLength="13.20" lengthAdjust="spacingAndGlyphs">SDI IN 2.1</text>
<text x="653.80" y="314.78" font-size="1.9500000000000002" font-weight="bold" text-anchor="start" fill="#555" textLength="12.00" lengthAdjust="spacingAndGlyphs">SDI IN 2.1</text>
<text x="653.80" y="317.03" font-size="1.9500000000000002" font-weight="bold" text-anchor="start" fill="#555" textLength="10.80" lengthAdjust="spacingAndGlyphs">SDI IN 2.1</text>
<text x="653.80" y="319.28" font-size="1.9500000000000002" font-weight="bold" text-anchor="start" fill="#555" textLength="13.20" lengthAdjust="spacingAndGlyphs">SDI IN 2.1</text>
<text x="653.80" y="321.53" font-size="1.9500000000000002" font-weight="bold" text-anchor="start" fill="#555" textLength="12.00" lengthAdjust="spacingAndGlyphs">SDI IN 2.1</text>
<text x="653.80" y="323.78" font-size="1.9500000000000002" font-weight="bold" text-anchor="start" fill="#555" textLength="10.80" lengthAdjust="spacingAndGlyphs">SDI IN 2.1</text>
<text x="653.80" y="326.03" font-size="1.9500000000000002" font-weight="bold" text-anchor="start" fill="#555" textLength="13.20" lengthAdjust="spacingAndGlyphs">SDI IN 2.1</text>
<text x="653.80" y="328.28" font-size="1.9500000000000002" font-weight="bold" text-anchor="start" fill="#555" textLength="12.00" lengthAdjust="spacingAndGlyphs">SDI IN 2.1</text>
<text x="653.80" y="330.53" font-size="1.9500000000000002" font-weight="bold" text-anchor="start" fill="#555" textLength="10.80" lengthAdjust="spacingAndGlyphs">SDI IN 2.1</text>
<text x="653.80" y="332.78" font-size="1.9500000000000002" font-weight="bold" text-anchor="start" fill="#555" textLength="13.20" lengthAdjust="spacingAndGlyphs">SDI IN 2.1</text>
<text x="653.80" y="335.03" font-size="1.9500000000000002" font-weight="bold" text-anchor="start" fill="#555" textLength="12.00" lengthAdjust="spacingAndGlyphs">SDI IN 2.1</text>
<text x="692.00" y="320.82" font-size="1.9500000000000002" font-weight="bold" text-anchor="start" fill="#666" textLength="9.00" lengthAdjust="spacingAndGlyphs">OUT 1</text>
<line x1="702.00" y1="321.50" x2="728.30" y2="321.50" stroke="#969696" stroke-width="0.45"/>
<text x="729.00" y="320.84" font-size="2.08" font-weight="bold" text-anchor="start" fill="#4a4a4a" textLength="11.00" lengthAdjust="spacingAndGlyphs">SDI 2.3</text>
<text x="742.00" y="321.87" font-size="1.4300000000000002" font-weight="bold" text-anchor="start" fill="#4a4a4a" textLength="3.00" lengthAdjust="spacingAndGlyphs">OUT</text>
<text x="692.00" y="323.53" font-size="1.9500000000000002" font-weight="bold" text-anchor="start" fill="#666" textLength="9.00" lengthAdjust="spacingAndGlyphs">OUT 1</text>
<line x1="702.00" y1="323.50" x2="728.30" y2="323.50" stroke="#969696" stroke-width="0.45"/>
<text x="729.00" y="323.54" font-size="2.08" font-weight="bold" text-anchor="start" fill="#4a4a4a" textLength="11.00" lengthAdjust="spacingAndGlyphs">SDI 2.3</text>
<text x="742.00" y="324.57" font-size="1.4300000000000002" font-weight="bold" text-anchor="start" fill="#4a4a4a" textLength="3.00" lengthAdjust="spacingAndGlyphs">OUT</text>
<text x="692.00" y="326.43" font-size="1.9500000000000002" font-weight="bold" text-anchor="start" fill="#666" textLength="9.00" lengthAdjust="spacingAndGlyphs">OUT 1</text>
<line x1="702.00" y1="326.50" x2="728.30" y2="326.50" stroke="#969696" stroke-width="0.45"/>
<text x="729.00" y="326.44" font-size="2.08" font-weight="bold" text-anchor="start" fill="#4a4a4a" textLength="11.00" lengthAdjust="spacingAndGlyphs">SDI 2.3</text>
<text x="742.00" y="327.47" font-size="1.4300000000000002" font-weight="bold" text-anchor="start" fill="#4a4a4a" textLength="3.00" lengthAdjust="spacingAndGlyphs">OUT</text>
<text x="692.00" y="329.73" font-size="1.9500000000000002" font-weight="bold" text-anchor="start" fill="#666" textLength="9.00" lengthAdjust="spacingAndGlyphs">OUT 1</text>
<line x1="702.00" y1="330.50" x2="728.30" y2="330.50" stroke="#969696" stroke-width="0.45"/>
<text x="729.00" y="329.74" font-size="2.08" font-weight="bold" text-anchor="start" fill="#4a4a4a" textLength="11.00" lengthAdjust="spacingAndGlyphs">SDI 2.3</text>
<text x="742.00" y="330.77" font-size="1.4300000000000002" font-weight="bold" text-anchor="start" fill="#4a4a4a" textLength="3.00" lengthAdjust="spacingAndGlyphs">OUT</text>
<text x="692.00" y="332.43" font-size="1.9500000000000002" font-weight="bold" text-anchor="start" fill="#666" textLength="9.00" lengthAdjust="spacingAndGlyphs">OUT 1</text>
<line x1="702.00" y1="332.50" x2="728.30" y2="332.50" stroke="#969696" stroke-width="0.45"/>
<text x="729.00" y="332.44" font-size="2.08" font-weight="bold" text-anchor="start" fill="#4a4a4a" textLength="11.00" lengthAdjust="spacingAndGlyphs">SDI 2.3</text>
<text x="742.00" y="333.47" font-size="1.4300000000000002" font-weight="bold" text-anchor="start" fill="#4a4a4a" textLength="3.00" lengthAdjust="spacingAndGlyphs">OUT</text>
<text x="622.00" y="314.04" font-size="2.08" font-weight="bold" text-anchor="start" fill="#767676" textLength="18.00" lengthAdjust="spacingAndGlyphs">ULT SDI 1.4</text>
<line x1="620.00" y1="314.50" x2="653.20" y2="314.50" stroke="#969696" stroke-width="0.45"/>
<line x1="620.60" y1="313.90" x2="619.40" y2="314.70" stroke="#969696" stroke-width="0.3"/>
<line x1="619.40" y1="314.70" x2="620.60" y2="315.50" stroke="#969696" stroke-width="0.3"/>
<text x="622.00" y="320.84" font-size="2.08" font-weight="bold" text-anchor="start" fill="#767676" textLength="18.00" lengthAdjust="spacingAndGlyphs">ULT SDI 1.4</text>
<line x1="620.00" y1="321.50" x2="653.20" y2="321.50" stroke="#969696" stroke-width="0.45"/>
<line x1="620.60" y1="320.70" x2="619.40" y2="321.50" stroke="#969696" stroke-width="0.3"/>
<line x1="619.40" y1="321.50" x2="620.60" y2="322.30" stroke="#969696" stroke-width="0.3"/>
<text x="622.00" y="326.94" font-size="2.08" font-weight="bold" text-anchor="start" fill="#767676" textLength="18.00" lengthAdjust="spacingAndGlyphs">ULT SDI 1.4</text>
<line x1="620.00" y1="327.50" x2="653.20" y2="327.50" stroke="#969696" stroke-width="0.45"/>
<line x1="620.60" y1="326.80" x2="619.40" y2="327.60" stroke="#969696" stroke-width="0.3"/>
<line x1="619.40" y1="327.60" x2="620.60" y2="328.40" stroke="#969696" stroke-width="0.3"/>
<text x="622.00" y="331.14" font-size="2.08" font-weight="bold" text-anchor="start" fill="#767676" textLength="18.00" lengthAdjust="spacingAndGlyphs">ULT SDI 1.4</text>
<line x1="620.00" y1="331.50" x2="653.20" y2="331.50" stroke="#969696" stroke-width="0.45"/>
<line x1="620.60" y1="331.00" x2="619.40" y2="331.80" stroke="#969696" stroke-width="0.3"/>
<line x1="619.40" y1="331.80" x2="620.60" y2="332.60" stroke="#969696" stroke-width="0.3"/>
<line x1="688.10" y1="150.50" x2="701.50" y2="150.50" stroke="#969696" stroke-width="0.45"/>
<line x1="701.50" y1="150.50" x2="701.50" y2="168.80" stroke="#b4b4b4" stroke-width="0.4"/>
<line x1="701.50" y1="168.50" x2="637.50" y2="168.50" stroke="#969696" stroke-width="0.45"/>
<line x1="637.50" y1="168.80" x2="637.50" y2="311.70" stroke="#b4b4b4" stroke-width="0.4"/>
<line x1="637.50" y1="311.50" x2="653.20" y2="311.50" stroke="#969696" stroke-width="0.45"/>
<line x1="688.10" y1="149.50" x2="704.00" y2="149.50" stroke="#969696" stroke-width="0.45"/>
<line x1="704.50" y1="149.20" x2="704.50" y2="171.30" stroke="#b4b4b4" stroke-width="0.4"/>
<line x1="704.00" y1="171.50" x2="640.00" y2="171.50" stroke="#969696" stroke-width="0.45"/>
<line x1="640.50" y1="171.30" x2="640.50" y2="277.45" stroke="#b4b4b4" stroke-width="0.4"/>
<line x1="640.00" y1="277.50" x2="653.20" y2="277.50" stroke="#969696" stroke-width="0.45"/>
<line x1="688.10" y1="146.50" x2="706.50" y2="146.50" stroke="#969696" stroke-width="0.45"/>
<line x1="706.50" y1="146.20" x2="706.50" y2="173.20" stroke="#b4b4b4" stroke-width="0.4"/>
<line x1="706.50" y1="173.50" x2="642.50" y2="173.50" stroke="#969696" stroke-width="0.45"/>
<line x1="642.50" y1="173.20" x2="642.50" y2="240.50" stroke="#b4b4b4" stroke-width="0.4"/>
<line x1="642.50" y1="240.50" x2="653.20" y2="240.50" stroke="#969696" stroke-width="0.45"/>
<line x1="688.10" y1="144.50" x2="708.80" y2="144.50" stroke="#969696" stroke-width="0.45"/>
<line x1="708.50" y1="144.35" x2="708.50" y2="175.20" stroke="#b4b4b4" stroke-width="0.4"/>
<line x1="708.80" y1="175.50" x2="644.40" y2="175.50" stroke="#969696" stroke-width="0.45"/>
<line x1="644.50" y1="175.20" x2="644.50" y2="207.15" stroke="#b4b4b4" stroke-width="0.4"/>
<line x1="644.40" y1="207.50" x2="653.20" y2="207.50" stroke="#969696" stroke-width="0.45"/>
<line x1="653.20" y1="227.50" x2="648.30" y2="227.50" stroke="#969696" stroke-width="0.45"/>
<line x1="648.50" y1="227.30" x2="648.50" y2="337.50" stroke="#b4b4b4" stroke-width="0.4"/>
<line x1="648.30" y1="337.50" x2="547.40" y2="337.50" stroke="#969696" stroke-width="0.45"/>
<line x1="547.50" y1="337.50" x2="547.50" y2="432.00" stroke="#b4b4b4" stroke-width="0.4"/>
<polygon points="502.60,180.15 523.50,188.75 502.60,197.35" fill="none" stroke="#9a9a9a" stroke-width="0.45"/>
<circle cx="524.50" cy="188.75" r="0.8" fill="none" stroke="#9a9a9a" stroke-width="0.3"/>
<text x="506.50" y="189.59" font-size="2.08" font-weight="bold" text-anchor="start" fill="#505050" textLength="6.90" lengthAdjust="spacingAndGlyphs">SDI 1.1</text>
<text x="496.00" y="187.44" font-size="1.6900000000000002" font-weight="bold" text-anchor="start" fill="#4a4a4a" textLength="5.00" lengthAdjust="spacingAndGlyphs">IN</text>
<polygon points="502.60,202.10 523.50,210.70 502.60,219.30" fill="none" stroke="#9a9a9a" stroke-width="0.45"/>
<circle cx="524.50" cy="210.70" r="0.8" fill="none" stroke="#9a9a9a" stroke-width="0.3"/>
<text x="506.50" y="211.54" font-size="2.08" font-weight="bold" text-anchor="start" fill="#505050" textLength="6.90" lengthAdjust="spacingAndGlyphs">SDI 1.1</text>
<text x="496.00" y="209.39" font-size="1.6900000000000002" font-weight="bold" text-anchor="start" fill="#4a4a4a" textLength="5.00" lengthAdjust="spacingAndGlyphs">IN</text>
<polygon points="502.60,224.40 523.50,233.00 502.60,241.60" fill="none" stroke="#9a9a9a" stroke-width="0.45"/>
<circle cx="524.50" cy="233.00" r="0.8" fill="none" stroke="#9a9a9a" stroke-width="0.3"/>
<text x="506.50" y="233.84" font-size="2.08" font-weight="bold" text-anchor="start" fill="#505050" textLength="6.90" lengthAdjust="spacingAndGlyphs">SDI 1.1</text>
<text x="496.00" y="231.69" font-size="1.6900000000000002" font-weight="bold" text-anchor="start" fill="#4a4a4a" textLength="5.00" lengthAdjust="spacingAndGlyphs">IN</text>
<polygon points="502.60,246.40 523.50,255.00 502.60,263.60" fill="none" stroke="#9a9a9a" stroke-width="0.45"/>
<circle cx="524.50" cy="255.00" r="0.8" fill="none" stroke="#9a9a9a" stroke-width="0.3"/>
<text x="506.50" y="255.84" font-size="2.08" font-weight="bold" text-anchor="start" fill="#505050" textLength="6.90" lengthAdjust="spacingAndGlyphs">SDI 1.1</text>
<text x="496.00" y="253.69" font-size="1.6900000000000002" font-weight="bold" text-anchor="start" fill="#4a4a4a" textLength="5.00" lengthAdjust="spacingAndGlyphs">IN</text>
<polygon points="502.60,268.70 523.50,277.30 502.60,285.90" fill="none" stroke="#9a9a9a" stroke-width="0.45"/>
<circle cx="524.50" cy="277.30" r="0.8" fill="none" stroke="#9a9a9a" stroke-width="0.3"/>
<text x="506.50" y="278.14" font-size="2.08" font-weight="bold" text-anchor="start" fill="#505050" textLength="6.90" lengthAdjust="spacingAndGlyphs">SDI 1.1</text>
<text x="496.00" y="276.00" font-size="1.6900000000000002" font-weight="bold" text-anchor="start" fill="#4a4a4a" textLength="5.00" lengthAdjust="spacingAndGlyphs">IN</text>
<line x1="522.50" y1="180.80" x2="522.50" y2="177.75" stroke="#b4b4b4" stroke-width="0.4"/>
<line x1="522.50" y1="177.50" x2="449.40" y2="177.50" stroke="#969696" stroke-width="0.45"/>
<line x1="449.50" y1="177.75" x2="449.50" y2="297.00" stroke="#b4b4b4" stroke-width="0.4"/>
<line x1="449.40" y1="297.50" x2="551.80" y2="297.50" stroke="#969696" stroke-width="0.45"/>
<line x1="551.50" y1="297.00" x2="551.50" y2="432.00" stroke="#b4b4b4" stroke-width="0.4"/>
<line x1="502.60" y1="188.50" x2="454.40" y2="188.50" stroke="#969696" stroke-width="0.45"/>
<line x1="454.50" y1="188.75" x2="454.50" y2="292.40" stroke="#b4b4b4" stroke-width="0.4"/>
<line x1="454.40" y1="292.50" x2="556.00" y2="292.50" stroke="#969696" stroke-width="0.45"/>
<line x1="556.50" y1="292.40" x2="556.50" y2="432.00" stroke="#b4b4b4" stroke-width="0.4"/>
<line x1="502.60" y1="193.50" x2="489.40" y2="193.50" stroke="#969696" stroke-width="0.45"/>
<line x1="489.50" y1="193.10" x2="489.50" y2="210.70" stroke="#b4b4b4" stroke-width="0.4"/>
<line x1="489.40" y1="210.50" x2="502.60" y2="210.50" stroke="#969696" stroke-width="0.45"/>
<line x1="462.50" y1="233.50" x2="502.60" y2="233.50" stroke="#969696" stroke-width="0.45"/>
<line x1="462.70" y1="232.20" x2="461.50" y2="233.00" stroke="#969696" stroke-width="0.3"/>
<line x1="461.50" y1="233.00" x2="462.70" y2="233.80" stroke="#969696" stroke-width="0.3"/>
<text x="464.00" y="231.72" font-size="1.9500000000000002" font-weight="bold" text-anchor="start" fill="#767676" textLength="16.00" lengthAdjust="spacingAndGlyphs">SDI 1 IN</text>
<line x1="462.50" y1="255.50" x2="502.60" y2="255.50" stroke="#969696" stroke-width="0.45"/>
<line x1="462.70" y1="254.20" x2="461.50" y2="255.00" stroke="#969696" stroke-width="0.3"/>
<line x1="461.50" y1="255.00" x2="462.70" y2="255.80" stroke="#969696" stroke-width="0.3"/>
<text x="464.00" y="253.72" font-size="1.9500000000000002" font-weight="bold" text-anchor="start" fill="#767676" textLength="16.00" lengthAdjust="spacingAndGlyphs">SDI 1 IN</text>
<line x1="462.50" y1="277.50" x2="502.60" y2="277.50" stroke="#969696" stroke-width="0.45"/>
<line x1="462.70" y1="276.50" x2="461.50" y2="277.30" stroke="#969696" stroke-width="0.3"/>
<line x1="461.50" y1="277.30" x2="462.70" y2="278.10" stroke="#969696" stroke-width="0.3"/>
<text x="464.00" y="276.03" font-size="1.9500000000000002" font-weight="bold" text-anchor="start" fill="#767676" textLength="16.00" lengthAdjust="spacingAndGlyphs">SDI 1 IN</text>
<line x1="517.79" y1="186.50" x2="603.30" y2="186.50" stroke="#969696" stroke-width="0.45"/>
<line x1="603.50" y1="186.40" x2="603.50" y2="328.90" stroke="#b4b4b4" stroke-width="0.4"/>
<line x1="603.30" y1="328.50" x2="653.20" y2="328.50" stroke="#969696" stroke-width="0.45"/>
<line x1="517.06" y1="191.50" x2="602.00" y2="191.50" stroke="#969696" stroke-width="0.45"/>
<line x1="602.50" y1="191.40" x2="602.50" y2="293.20" stroke="#b4b4b4" stroke-width="0.4"/>
<line x1="602.00" y1="293.50" x2="653.20" y2="293.50" stroke="#969696" stroke-width="0.45"/>
<line x1="510.26" y1="194.50" x2="600.80" y2="194.50" stroke="#969696" stroke-width="0.45"/>
<line x1="600.50" y1="194.20" x2="600.50" y2="323.30" stroke="#b4b4b4" stroke-width="0.4"/>
<line x1="600.80" y1="323.50" x2="653.20" y2="323.50" stroke="#969696" stroke-width="0.45"/>
<line x1="504.91" y1="196.50" x2="599.60" y2="196.50" stroke="#969696" stroke-width="0.45"/>
<line x1="599.50" y1="196.40" x2="599.50" y2="252.30" stroke="#b4b4b4" stroke-width="0.4"/>
<line x1="599.60" y1="252.50" x2="653.20" y2="252.50" stroke="#969696" stroke-width="0.45"/>
<line x1="505.03" y1="203.50" x2="547.00" y2="203.50" stroke="#969696" stroke-width="0.45"/>
<line x1="511.11" y1="205.50" x2="547.00" y2="205.50" stroke="#969696" stroke-width="0.45"/>
<line x1="517.18" y1="208.50" x2="547.00" y2="208.50" stroke="#969696" stroke-width="0.45"/>
<line x1="516.09" y1="213.50" x2="547.00" y2="213.50" stroke="#969696" stroke-width="0.45"/>
<line x1="510.01" y1="216.50" x2="547.00" y2="216.50" stroke="#969696" stroke-width="0.45"/>
<line x1="503.94" y1="218.50" x2="547.00" y2="218.50" stroke="#969696" stroke-width="0.45"/>
<text x="547.50" y="203.92" font-size="1.9500000000000002" font-weight="bold" text-anchor="start" fill="#4a4a4a" textLength="8.50" lengthAdjust="spacingAndGlyphs">SDI 3.2</text>
<text x="558.00" y="204.46" font-size="1.4300000000000002" font-weight="bold" text-anchor="start" fill="#4a4a4a" textLength="2.50" lengthAdjust="spacingAndGlyphs">OUT</text>
<text x="547.50" y="206.22" font-size="1.9500000000000002" font-weight="bold" text-anchor="start" fill="#4a4a4a" textLength="8.50" lengthAdjust="spacingAndGlyphs">SDI 3.2</text>
<text x="558.00" y="206.76" font-size="1.4300000000000002" font-weight="bold" text-anchor="start" fill="#4a4a4a" textLength="2.50" lengthAdjust="spacingAndGlyphs">OUT</text>
<text x="547.50" y="208.53" font-size="1.9500000000000002" font-weight="bold" text-anchor="start" fill="#4a4a4a" textLength="8.50" lengthAdjust="spacingAndGlyphs">SDI 3.2</text>
<text x="558.00" y="209.06" font-size="1.4300000000000002" font-weight="bold" text-anchor="start" fill="#4a4a4a" textLength="2.50" lengthAdjust="spacingAndGlyphs">OUT</text>
<text x="547.50" y="214.12" font-size="1.9500000000000002" font-weight="bold" text-anchor="start" fill="#4a4a4a" textLength="8.50" lengthAdjust="spacingAndGlyphs">SDI 3.2</text>
<text x="558.00" y="214.66" font-size="1.4300000000000002" font-weight="bold" text-anchor="start" fill="#4a4a4a" textLength="2.50" lengthAdjust="spacingAndGlyphs">OUT</text>
<text x="547.50" y="216.42" font-size="1.9500000000000002" font-weight="bold" text-anchor="start" fill="#4a4a4a" textLength="8.50" lengthAdjust="spacingAndGlyphs">SDI 3.2</text>
<text x="558.00" y="216.96" font-size="1.4300000000000002" font-weight="bold" text-anchor="start" fill="#4a4a4a" textLength="2.50" lengthAdjust="spacingAndGlyphs">OUT</text>
<text x="547.50" y="218.72" font-size="1.9500000000000002" font-weight="bold" text-anchor="start" fill="#4a4a4a" textLength="8.50" lengthAdjust="spacingAndGlyphs">SDI 3.2</text>
<text x="558.00" y="219.26" font-size="1.4300000000000002" font-weight="bold" text-anchor="start" fill="#4a4a4a" textLength="2.50" lengthAdjust="spacingAndGlyphs">OUT</text>
<line x1="510.13" y1="227.50" x2="653.20" y2="227.50" stroke="#969696" stroke-width="0.45"/>
<line x1="517.67" y1="230.50" x2="593.90" y2="230.50" stroke="#969696" stroke-width="0.45"/>
<line x1="593.50" y1="230.60" x2="593.50" y2="313.00" stroke="#b4b4b4" stroke-width="0.4"/>
<line x1="593.90" y1="313.50" x2="653.20" y2="313.50" stroke="#969696" stroke-width="0.45"/>
<line x1="518.03" y1="235.50" x2="558.00" y2="235.50" stroke="#969696" stroke-width="0.45"/>
<line x1="505.03" y1="240.50" x2="558.00" y2="240.50" stroke="#969696" stroke-width="0.45"/>
<text x="537.00" y="237.44" font-size="2.08" font-weight="bold" text-anchor="start" fill="#4a4a4a" textLength="18.00" lengthAdjust="spacingAndGlyphs">ULT SDI 1.4</text>
<text x="537.00" y="239.94" font-size="2.08" font-weight="bold" text-anchor="start" fill="#4a4a4a" textLength="18.00" lengthAdjust="spacingAndGlyphs">ULT SDI 1.4</text>
<text x="557.00" y="237.76" font-size="1.4300000000000002" font-weight="bold" text-anchor="start" fill="#4a4a4a" textLength="3.00" lengthAdjust="spacingAndGlyphs">OUT</text>
<line x1="572.30" y1="210.50" x2="653.20" y2="210.50" stroke="#969696" stroke-width="0.45"/>
<line x1="572.50" y1="210.20" x2="572.50" y2="317.00" stroke="#b4b4b4" stroke-width="0.4"/>
<line x1="572.30" y1="317.50" x2="653.20" y2="317.50" stroke="#969696" stroke-width="0.45"/>
<line x1="577.50" y1="212.50" x2="653.20" y2="212.50" stroke="#969696" stroke-width="0.45"/>
<line x1="577.50" y1="212.50" x2="577.50" y2="235.60" stroke="#b4b4b4" stroke-width="0.4"/>
<line x1="595.60" y1="205.50" x2="653.20" y2="205.50" stroke="#969696" stroke-width="0.45"/>
<line x1="595.50" y1="205.60" x2="595.50" y2="225.00" stroke="#b4b4b4" stroke-width="0.4"/>
<line x1="510.86" y1="249.50" x2="572.30" y2="249.50" stroke="#969696" stroke-width="0.45"/>
<line x1="516.70" y1="252.50" x2="653.20" y2="252.50" stroke="#969696" stroke-width="0.45"/>
<line x1="517.67" y1="257.50" x2="572.30" y2="257.50" stroke="#969696" stroke-width="0.45"/>
<line x1="510.74" y1="260.50" x2="653.20" y2="260.50" stroke="#969696" stroke-width="0.45"/>
<line x1="572.30" y1="245.50" x2="653.20" y2="245.50" stroke="#969696" stroke-width="0.45"/>
<line x1="509.65" y1="271.50" x2="578.80" y2="271.50" stroke="#969696" stroke-width="0.45"/>
<line x1="578.50" y1="271.60" x2="578.50" y2="245.80" stroke="#b4b4b4" stroke-width="0.4"/>
<line x1="516.21" y1="274.50" x2="573.60" y2="274.50" stroke="#969696" stroke-width="0.45"/>
<line x1="518.40" y1="279.50" x2="568.20" y2="279.50" stroke="#969696" stroke-width="0.45"/>
<line x1="568.50" y1="279.40" x2="568.50" y2="319.00" stroke="#b4b4b4" stroke-width="0.4"/>
<line x1="568.20" y1="319.50" x2="653.20" y2="319.50" stroke="#969696" stroke-width="0.45"/>
<line x1="512.08" y1="282.50" x2="566.50" y2="282.50" stroke="#969696" stroke-width="0.45"/>
<line x1="572.80" y1="280.50" x2="653.20" y2="280.50" stroke="#969696" stroke-width="0.45"/>
<line x1="593.90" y1="276.50" x2="653.20" y2="276.50" stroke="#969696" stroke-width="0.45"/>
<line x1="600.80" y1="287.50" x2="653.20" y2="287.50" stroke="#969696" stroke-width="0.45"/>
<line x1="606.30" y1="258.50" x2="653.20" y2="258.50" stroke="#969696" stroke-width="0.45"/>
<line x1="606.50" y1="258.00" x2="606.50" y2="293.60" stroke="#b4b4b4" stroke-width="0.4"/>
<line x1="606.30" y1="293.50" x2="653.20" y2="293.50" stroke="#969696" stroke-width="0.45"/>
<line x1="603.30" y1="241.50" x2="653.20" y2="241.50" stroke="#969696" stroke-width="0.45"/>
<line x1="601.00" y1="235.50" x2="653.20" y2="235.50" stroke="#969696" stroke-width="0.45"/>
<line x1="612.00" y1="328.50" x2="653.20" y2="328.50" stroke="#969696" stroke-width="0.45"/>
<line x1="653.20" y1="299.50" x2="604.50" y2="299.50" stroke="#969696" stroke-width="0.45"/>
<line x1="604.50" y1="299.00" x2="604.50" y2="352.00" stroke="#b4b4b4" stroke-width="0.4"/>
<line x1="653.20" y1="297.50" x2="606.40" y2="297.50" stroke="#969696" stroke-width="0.45"/>
<line x1="606.50" y1="297.00" x2="606.50" y2="352.00" stroke="#b4b4b4" stroke-width="0.4"/>
<line x1="653.20" y1="251.50" x2="608.00" y2="251.50" stroke="#969696" stroke-width="0.45"/>
<line x1="608.50" y1="251.00" x2="608.50" y2="352.00" stroke="#b4b4b4" stroke-width="0.4"/>
<line x1="653.20" y1="294.50" x2="609.60" y2="294.50" stroke="#969696" stroke-width="0.45"/>
<line x1="609.50" y1="294.20" x2="609.50" y2="352.00" stroke="#b4b4b4" stroke-width="0.4"/>
<line x1="612.50" y1="328.90" x2="612.50" y2="354.00" stroke="#b4b4b4" stroke-width="0.4"/>
<polygon points="584.90,346.40 606.90,354.20 584.90,364.00" fill="none" stroke="#9a9a9a" stroke-width="0.45"/>
<line x1="562.50" y1="353.50" x2="584.90" y2="353.50" stroke="#969696" stroke-width="0.45"/>
<line x1="563.20" y1="353.10" x2="562.00" y2="353.90" stroke="#969696" stroke-width="0.3"/>
<line x1="562.00" y1="353.90" x2="563.20" y2="354.70" stroke="#969696" stroke-width="0.3"/>
<text x="568.00" y="353.27" font-size="2.3400000000000003" font-weight="bold" text-anchor="start" fill="#444" textLength="15.00" lengthAdjust="spacingAndGlyphs">SDI 1 IN</text>
<text x="591.00" y="354.21" font-size="1.8199999999999998" font-weight="bold" text-anchor="start" fill="#767676" textLength="8.00" lengthAdjust="spacingAndGlyphs">IN 3</text>
<text x="591.50" y="356.21" font-size="1.8199999999999998" font-weight="bold" text-anchor="start" fill="#767676" textLength="7.00" lengthAdjust="spacingAndGlyphs">IN 3</text>
<line x1="589.00" y1="359.50" x2="622.80" y2="359.50" stroke="#969696" stroke-width="0.45"/>
<text x="623.00" y="358.84" font-size="2.08" font-weight="bold" text-anchor="start" fill="#4a4a4a" textLength="13.00" lengthAdjust="spacingAndGlyphs">SDI 2.3</text>
<text x="639.00" y="359.56" font-size="1.4300000000000002" font-weight="bold" text-anchor="start" fill="#4a4a4a" textLength="3.00" lengthAdjust="spacingAndGlyphs">OUT</text>
<line x1="589.00" y1="362.50" x2="622.80" y2="362.50" stroke="#969696" stroke-width="0.45"/>
<text x="623.00" y="361.84" font-size="2.08" font-weight="bold" text-anchor="start" fill="#4a4a4a" textLength="13.00" lengthAdjust="spacingAndGlyphs">SDI 2.3</text>
<text x="639.00" y="362.56" font-size="1.4300000000000002" font-weight="bold" text-anchor="start" fill="#4a4a4a" textLength="3.00" lengthAdjust="spacingAndGlyphs">OUT</text>
<polygon points="635.00,411.70 657.30,420.60 635.00,429.70" fill="none" stroke="#9a9a9a" stroke-width="0.45"/>
<line x1="594.00" y1="420.50" x2="635.00" y2="420.50" stroke="#969696" stroke-width="0.45"/>
<line x1="594.70" y1="419.80" x2="593.50" y2="420.60" stroke="#969696" stroke-width="0.3"/>
<line x1="593.50" y1="420.60" x2="594.70" y2="421.40" stroke="#969696" stroke-width="0.3"/>
<text x="597.00" y="419.83" font-size="1.9500000000000002" font-weight="bold" text-anchor="start" fill="#4a4a4a" textLength="11.00" lengthAdjust="spacingAndGlyphs">SDI 3.2</text>
<text x="629.00" y="419.80" font-size="1.6900000000000002" font-weight="bold" text-anchor="start" fill="#4a4a4a" textLength="5.00" lengthAdjust="spacingAndGlyphs">IN</text>
<text x="640.00" y="420.64" font-size="2.08" font-weight="bold" text-anchor="start" fill="#767676" textLength="7.00" lengthAdjust="spacingAndGlyphs">IN 3</text>
<text x="640.50" y="422.61" font-size="1.8199999999999998" font-weight="bold" text-anchor="start" fill="#767676" textLength="5.50" lengthAdjust="spacingAndGlyphs">IN2</text>
<line x1="639.00" y1="412.50" x2="675.30" y2="412.50" stroke="#969696" stroke-width="0.45"/>
<line x1="639.00" y1="415.50" x2="675.30" y2="415.50" stroke="#969696" stroke-width="0.45"/>
<line x1="639.00" y1="418.50" x2="675.30" y2="418.50" stroke="#969696" stroke-width="0.45"/>
<line x1="639.00" y1="423.50" x2="675.30" y2="423.50" stroke="#969696" stroke-width="0.45"/>
<line x1="639.00" y1="426.50" x2="675.30" y2="426.50" stroke="#969696" stroke-width="0.45"/>
<text x="676.00" y="412.24" font-size="2.08" font-weight="bold" text-anchor="start" fill="#4a4a4a" textLength="14.00" lengthAdjust="spacingAndGlyphs">SDI 1 IN</text>
<text x="676.00" y="414.84" font-size="2.08" font-weight="bold" text-anchor="start" fill="#4a4a4a" textLength="14.00" lengthAdjust="spacingAndGlyphs">SDI 1 IN</text>
<text x="676.00" y="417.44" font-size="2.08" font-weight="bold" text-anchor="start" fill="#4a4a4a" textLength="14.00" lengthAdjust="spacingAndGlyphs">SDI 1 IN</text>
<text x="676.00" y="422.84" font-size="2.08" font-weight="bold" text-anchor="start" fill="#4a4a4a" textLength="14.00" lengthAdjust="spacingAndGlyphs">SDI 1 IN</text>
<text x="676.00" y="425.64" font-size="2.08" font-weight="bold" text-anchor="start" fill="#4a4a4a" textLength="14.00" lengthAdjust="spacingAndGlyphs">SDI 1 IN</text>
<text x="690.50" y="415.97" font-size="1.4300000000000002" font-weight="bold" text-anchor="start" fill="#4a4a4a" textLength="3.00" lengthAdjust="spacingAndGlyphs">OUT</text>
<text x="690.50" y="418.77" font-size="1.4300000000000002" font-weight="bold" text-anchor="start" fill="#4a4a4a" textLength="3.00" lengthAdjust="spacingAndGlyphs">OUT</text>
<text x="690.50" y="424.06" font-size="1.4300000000000002" font-weight="bold" text-anchor="start" fill="#4a4a4a" textLength="3.00" lengthAdjust="spacingAndGlyphs">OUT</text>
<text x="690.50" y="426.97" font-size="1.4300000000000002" font-weight="bold" text-anchor="start" fill="#4a4a4a" textLength="3.00" lengthAdjust="spacingAndGlyphs">OUT</text>
</svg></body></html>
